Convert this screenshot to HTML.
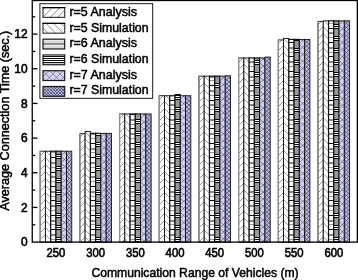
<!DOCTYPE html>
<html><head><meta charset="utf-8"><style>
html,body{margin:0;padding:0;background:#fff;width:358px;height:280px;overflow:hidden}
svg{display:block;will-change:transform}
.t{font-family:"Liberation Sans",sans-serif;font-size:12.7px;fill:#000;stroke:#000;stroke-width:0.5px}
.k{font-family:"Liberation Sans",sans-serif;font-size:11.9px;fill:#000;stroke:#000;stroke-width:0.6px}
</style></head><body>
<svg width="358" height="280" viewBox="0 0 358 280">
<defs><clipPath id="c1"><rect x="40.14" y="151.21" width="5.27" height="90.89"/></clipPath><clipPath id="c2"><rect x="45.41" y="151.21" width="5.27" height="90.89"/></clipPath><clipPath id="c3"><rect x="50.68" y="151.21" width="5.27" height="90.89"/></clipPath><clipPath id="c4"><rect x="55.95" y="151.21" width="5.27" height="90.89"/></clipPath><clipPath id="c5"><rect x="61.22" y="151.21" width="5.27" height="90.89"/></clipPath><clipPath id="c6"><rect x="66.49" y="151.21" width="5.27" height="90.89"/></clipPath><clipPath id="c7"><rect x="79.83" y="133.70" width="5.27" height="108.40"/></clipPath><clipPath id="c8"><rect x="85.10" y="131.45" width="5.27" height="110.65"/></clipPath><clipPath id="c9"><rect x="90.37" y="133.35" width="5.27" height="108.75"/></clipPath><clipPath id="c10"><rect x="95.64" y="133.35" width="5.27" height="108.75"/></clipPath><clipPath id="c11"><rect x="100.91" y="133.35" width="5.27" height="108.75"/></clipPath><clipPath id="c12"><rect x="106.18" y="133.35" width="5.27" height="108.75"/></clipPath><clipPath id="c13"><rect x="119.52" y="113.94" width="5.27" height="128.16"/></clipPath><clipPath id="c14"><rect x="124.79" y="113.94" width="5.27" height="128.16"/></clipPath><clipPath id="c15"><rect x="130.06" y="113.94" width="5.27" height="128.16"/></clipPath><clipPath id="c16"><rect x="135.33" y="113.94" width="5.27" height="128.16"/></clipPath><clipPath id="c17"><rect x="140.60" y="113.94" width="5.27" height="128.16"/></clipPath><clipPath id="c18"><rect x="145.87" y="113.94" width="5.27" height="128.16"/></clipPath><clipPath id="c19"><rect x="159.21" y="95.74" width="5.27" height="146.36"/></clipPath><clipPath id="c20"><rect x="164.48" y="95.74" width="5.27" height="146.36"/></clipPath><clipPath id="c21"><rect x="169.75" y="95.74" width="5.27" height="146.36"/></clipPath><clipPath id="c22"><rect x="175.02" y="94.53" width="5.27" height="147.57"/></clipPath><clipPath id="c23"><rect x="180.29" y="95.74" width="5.27" height="146.36"/></clipPath><clipPath id="c24"><rect x="185.56" y="95.74" width="5.27" height="146.36"/></clipPath><clipPath id="c25"><rect x="198.90" y="76.15" width="5.27" height="165.95"/></clipPath><clipPath id="c26"><rect x="204.17" y="76.15" width="5.27" height="165.95"/></clipPath><clipPath id="c27"><rect x="209.44" y="76.15" width="5.27" height="165.95"/></clipPath><clipPath id="c28"><rect x="214.71" y="76.15" width="5.27" height="165.95"/></clipPath><clipPath id="c29"><rect x="219.98" y="76.15" width="5.27" height="165.95"/></clipPath><clipPath id="c30"><rect x="225.25" y="75.81" width="5.27" height="166.29"/></clipPath><clipPath id="c31"><rect x="238.59" y="57.95" width="5.27" height="184.15"/></clipPath><clipPath id="c32"><rect x="243.86" y="57.95" width="5.27" height="184.15"/></clipPath><clipPath id="c33"><rect x="249.13" y="57.95" width="5.27" height="184.15"/></clipPath><clipPath id="c34"><rect x="254.40" y="57.95" width="5.27" height="184.15"/></clipPath><clipPath id="c35"><rect x="259.67" y="57.95" width="5.27" height="184.15"/></clipPath><clipPath id="c36"><rect x="264.94" y="57.09" width="5.27" height="185.01"/></clipPath><clipPath id="c37"><rect x="278.28" y="39.93" width="5.27" height="202.17"/></clipPath><clipPath id="c38"><rect x="283.55" y="38.54" width="5.27" height="203.56"/></clipPath><clipPath id="c39"><rect x="288.82" y="39.41" width="5.27" height="202.69"/></clipPath><clipPath id="c40"><rect x="294.09" y="39.41" width="5.27" height="202.69"/></clipPath><clipPath id="c41"><rect x="299.36" y="39.41" width="5.27" height="202.69"/></clipPath><clipPath id="c42"><rect x="304.63" y="39.41" width="5.27" height="202.69"/></clipPath><clipPath id="c43"><rect x="317.97" y="21.38" width="5.27" height="220.72"/></clipPath><clipPath id="c44"><rect x="323.24" y="20.86" width="5.27" height="221.24"/></clipPath><clipPath id="c45"><rect x="328.51" y="20.86" width="5.27" height="221.24"/></clipPath><clipPath id="c46"><rect x="333.78" y="20.86" width="5.27" height="221.24"/></clipPath><clipPath id="c47"><rect x="339.05" y="20.86" width="5.27" height="221.24"/></clipPath><clipPath id="c48"><rect x="344.32" y="20.86" width="5.27" height="221.24"/></clipPath><pattern id="l1" patternUnits="userSpaceOnUse" width="7.5" height="7.5">
 <rect width="7.5" height="7.5" fill="#fff"/>
 <path d="M-1,8.5 L8.5,-1" stroke="#7a7a7a" stroke-width="0.9"/>
</pattern>
<pattern id="l2" patternUnits="userSpaceOnUse" width="7.5" height="7.5">
 <rect width="7.5" height="7.5" fill="#fff"/>
 <path d="M-1,-1 L8.5,8.5" stroke="#7a7a7a" stroke-width="0.9"/>
</pattern>
<pattern id="l5" patternUnits="userSpaceOnUse" width="7" height="7" x="45.9" y="73.9">
 <rect width="7" height="7" fill="#d4d4fa"/>
 <path d="M-1,8 L8,-1 M-1,-1 L8,8" stroke="#555" stroke-width="0.6"/>
</pattern>
<pattern id="l6" patternUnits="userSpaceOnUse" width="3" height="3" x="0" y="0">
 <rect width="3" height="3" fill="#b4b4e4"/>
 <path d="M-1,4 L4,-1 M-1,-1 L4,4" stroke="#50506a" stroke-width="0.75"/>
</pattern></defs>
<rect width="358" height="280" fill="#fff"/>
<g clip-path="url(#c1)"><rect x="40.14" y="151.21" width="5.27" height="90.89" fill="#fff"/><path d="M39.14,149.86L46.41,142.59M39.14,156.86L46.41,149.59M39.14,163.86L46.41,156.59M39.14,170.86L46.41,163.59M39.14,177.86L46.41,170.59M39.14,184.86L46.41,177.59M39.14,191.86L46.41,184.59M39.14,198.86L46.41,191.59M39.14,205.86L46.41,198.59M39.14,212.86L46.41,205.59M39.14,219.86L46.41,212.59M39.14,226.86L46.41,219.59M39.14,233.86L46.41,226.59M39.14,240.86L46.41,233.59M39.14,247.86L46.41,240.59M39.14,254.86L46.41,247.59" stroke="#8a8a8a" stroke-width="0.9" fill="none"/></g>
<rect x="40.14" y="151.21" width="5.27" height="90.89" fill="none" stroke="#111" stroke-width="0.9"/>
<g clip-path="url(#c2)"><rect x="45.41" y="151.21" width="5.27" height="90.89" fill="#fff"/><path d="M44.41,142.59L51.68,149.86M44.41,149.59L51.68,156.86M44.41,156.59L51.68,163.86M44.41,163.59L51.68,170.86M44.41,170.59L51.68,177.86M44.41,177.59L51.68,184.86M44.41,184.59L51.68,191.86M44.41,191.59L51.68,198.86M44.41,198.59L51.68,205.86M44.41,205.59L51.68,212.86M44.41,212.59L51.68,219.86M44.41,219.59L51.68,226.86M44.41,226.59L51.68,233.86M44.41,233.59L51.68,240.86M44.41,240.59L51.68,247.86M44.41,247.59L51.68,254.86" stroke="#8a8a8a" stroke-width="0.9" fill="none"/></g>
<rect x="45.41" y="151.21" width="5.27" height="90.89" fill="none" stroke="#111" stroke-width="0.9"/>
<g clip-path="url(#c3)"><rect x="50.68" y="151.21" width="5.27" height="90.89" fill="#f8f8f8"/><rect x="50.68" y="152.00" width="5.27" height="1.00" fill="#999"/><rect x="50.68" y="157.00" width="5.27" height="1.00" fill="#111"/><rect x="50.68" y="162.00" width="5.27" height="2.00" fill="#888"/><rect x="50.68" y="167.00" width="5.27" height="1.00" fill="#999"/><rect x="50.68" y="172.00" width="5.27" height="1.00" fill="#111"/><rect x="50.68" y="176.00" width="5.27" height="2.00" fill="#888"/><rect x="50.68" y="181.00" width="5.27" height="1.00" fill="#999"/><rect x="50.68" y="186.00" width="5.27" height="1.00" fill="#111"/><rect x="50.68" y="191.00" width="5.27" height="2.00" fill="#888"/><rect x="50.68" y="196.00" width="5.27" height="1.00" fill="#999"/><rect x="50.68" y="200.00" width="5.27" height="1.00" fill="#111"/><rect x="50.68" y="205.00" width="5.27" height="2.00" fill="#888"/><rect x="50.68" y="210.00" width="5.27" height="1.00" fill="#999"/><rect x="50.68" y="215.00" width="5.27" height="1.00" fill="#111"/><rect x="50.68" y="220.00" width="5.27" height="2.00" fill="#888"/><rect x="50.68" y="224.00" width="5.27" height="1.00" fill="#999"/><rect x="50.68" y="229.00" width="5.27" height="1.00" fill="#111"/><rect x="50.68" y="234.00" width="5.27" height="2.00" fill="#888"/><rect x="50.68" y="239.00" width="5.27" height="1.00" fill="#999"/></g>
<rect x="50.68" y="151.21" width="5.27" height="90.89" fill="none" stroke="#111" stroke-width="1.2"/>
<g clip-path="url(#c4)"><rect x="55.95" y="151.21" width="5.27" height="90.89" fill="#999"/><rect x="55.95" y="154.00" width="5.27" height="5.00" fill="#fff"/><rect x="55.95" y="154.00" width="5.27" height="1.00" fill="#000"/><rect x="55.95" y="156.00" width="5.27" height="1.00" fill="#000"/><rect x="55.95" y="158.00" width="5.27" height="1.00" fill="#000"/><rect x="55.95" y="166.00" width="5.27" height="5.00" fill="#fff"/><rect x="55.95" y="166.00" width="5.27" height="1.00" fill="#000"/><rect x="55.95" y="168.00" width="5.27" height="1.00" fill="#000"/><rect x="55.95" y="170.00" width="5.27" height="1.00" fill="#000"/><rect x="55.95" y="178.00" width="5.27" height="5.00" fill="#fff"/><rect x="55.95" y="178.00" width="5.27" height="1.00" fill="#000"/><rect x="55.95" y="180.00" width="5.27" height="1.00" fill="#000"/><rect x="55.95" y="182.00" width="5.27" height="1.00" fill="#000"/><rect x="55.95" y="190.00" width="5.27" height="5.00" fill="#fff"/><rect x="55.95" y="190.00" width="5.27" height="1.00" fill="#000"/><rect x="55.95" y="192.00" width="5.27" height="1.00" fill="#000"/><rect x="55.95" y="194.00" width="5.27" height="1.00" fill="#000"/><rect x="55.95" y="201.00" width="5.27" height="5.00" fill="#fff"/><rect x="55.95" y="201.00" width="5.27" height="1.00" fill="#000"/><rect x="55.95" y="203.00" width="5.27" height="1.00" fill="#000"/><rect x="55.95" y="205.00" width="5.27" height="1.00" fill="#000"/><rect x="55.95" y="213.00" width="5.27" height="5.00" fill="#fff"/><rect x="55.95" y="213.00" width="5.27" height="1.00" fill="#000"/><rect x="55.95" y="215.00" width="5.27" height="1.00" fill="#000"/><rect x="55.95" y="217.00" width="5.27" height="1.00" fill="#000"/><rect x="55.95" y="225.00" width="5.27" height="5.00" fill="#fff"/><rect x="55.95" y="225.00" width="5.27" height="1.00" fill="#000"/><rect x="55.95" y="227.00" width="5.27" height="1.00" fill="#000"/><rect x="55.95" y="229.00" width="5.27" height="1.00" fill="#000"/><rect x="55.95" y="237.00" width="5.27" height="5.00" fill="#fff"/><rect x="55.95" y="237.00" width="5.27" height="1.00" fill="#000"/><rect x="55.95" y="239.00" width="5.27" height="1.00" fill="#000"/><rect x="55.95" y="241.00" width="5.27" height="1.00" fill="#000"/></g>
<rect x="55.95" y="151.21" width="5.27" height="90.89" fill="none" stroke="#111" stroke-width="1.2"/>
<g clip-path="url(#c5)"><rect x="61.22" y="151.21" width="5.27" height="90.89" fill="#d0d0fa"/><path d="M60.22,149.78L67.49,142.51M60.22,156.78L67.49,149.51M60.22,163.78L67.49,156.51M60.22,170.78L67.49,163.51M60.22,177.78L67.49,170.51M60.22,184.78L67.49,177.51M60.22,191.78L67.49,184.51M60.22,198.78L67.49,191.51M60.22,205.78L67.49,198.51M60.22,212.78L67.49,205.51M60.22,219.78L67.49,212.51M60.22,226.78L67.49,219.51M60.22,233.78L67.49,226.51M60.22,240.78L67.49,233.51M60.22,247.78L67.49,240.51M60.22,254.78L67.49,247.51" stroke="#555" stroke-width="0.6" fill="none"/><path d="M60.22,141.25L67.49,148.52M60.22,148.25L67.49,155.52M60.22,155.25L67.49,162.52M60.22,162.25L67.49,169.52M60.22,169.25L67.49,176.52M60.22,176.25L67.49,183.52M60.22,183.25L67.49,190.52M60.22,190.25L67.49,197.52M60.22,197.25L67.49,204.52M60.22,204.25L67.49,211.52M60.22,211.25L67.49,218.52M60.22,218.25L67.49,225.52M60.22,225.25L67.49,232.52M60.22,232.25L67.49,239.52M60.22,239.25L67.49,246.52M60.22,246.25L67.49,253.52" stroke="#555" stroke-width="0.6" fill="none"/></g>
<rect x="61.22" y="151.21" width="5.27" height="90.89" fill="none" stroke="#111" stroke-width="0.9"/>
<g clip-path="url(#c6)"><rect x="66.49" y="151.21" width="5.27" height="90.89" fill="#b8b8e6"/><path d="M65.49,148.71L72.76,141.44M65.49,152.91L72.76,145.64M65.49,157.11L72.76,149.84M65.49,161.31L72.76,154.04M65.49,165.51L72.76,158.24M65.49,169.71L72.76,162.44M65.49,173.91L72.76,166.64M65.49,178.11L72.76,170.84M65.49,182.31L72.76,175.04M65.49,186.51L72.76,179.24M65.49,190.71L72.76,183.44M65.49,194.91L72.76,187.64M65.49,199.11L72.76,191.84M65.49,203.31L72.76,196.04M65.49,207.51L72.76,200.24M65.49,211.71L72.76,204.44M65.49,215.91L72.76,208.64M65.49,220.11L72.76,212.84M65.49,224.31L72.76,217.04M65.49,228.51L72.76,221.24M65.49,232.71L72.76,225.44M65.49,236.91L72.76,229.64M65.49,241.11L72.76,233.84M65.49,245.31L72.76,238.04M65.49,249.51L72.76,242.24M65.49,253.71L72.76,246.44" stroke="#4a4a60" stroke-width="0.75" fill="none"/><path d="M65.49,141.09L72.76,148.36M65.49,145.29L72.76,152.56M65.49,149.49L72.76,156.76M65.49,153.69L72.76,160.96M65.49,157.89L72.76,165.16M65.49,162.09L72.76,169.36M65.49,166.29L72.76,173.56M65.49,170.49L72.76,177.76M65.49,174.69L72.76,181.96M65.49,178.89L72.76,186.16M65.49,183.09L72.76,190.36M65.49,187.29L72.76,194.56M65.49,191.49L72.76,198.76M65.49,195.69L72.76,202.96M65.49,199.89L72.76,207.16M65.49,204.09L72.76,211.36M65.49,208.29L72.76,215.56M65.49,212.49L72.76,219.76M65.49,216.69L72.76,223.96M65.49,220.89L72.76,228.16M65.49,225.09L72.76,232.36M65.49,229.29L72.76,236.56M65.49,233.49L72.76,240.76M65.49,237.69L72.76,244.96M65.49,241.89L72.76,249.16M65.49,246.09L72.76,253.36" stroke="#4a4a60" stroke-width="0.75" fill="none"/></g>
<rect x="66.49" y="151.21" width="5.27" height="90.89" fill="none" stroke="#111" stroke-width="0.9"/>
<rect x="39.54" y="151.21" width="1.4" height="90.89" fill="#909090"/>
<g clip-path="url(#c7)"><rect x="79.83" y="133.70" width="5.27" height="108.40" fill="#fff"/><path d="M78.83,131.17L86.10,123.90M78.83,138.17L86.10,130.90M78.83,145.17L86.10,137.90M78.83,152.17L86.10,144.90M78.83,159.17L86.10,151.90M78.83,166.17L86.10,158.90M78.83,173.17L86.10,165.90M78.83,180.17L86.10,172.90M78.83,187.17L86.10,179.90M78.83,194.17L86.10,186.90M78.83,201.17L86.10,193.90M78.83,208.17L86.10,200.90M78.83,215.17L86.10,207.90M78.83,222.17L86.10,214.90M78.83,229.17L86.10,221.90M78.83,236.17L86.10,228.90M78.83,243.17L86.10,235.90M78.83,250.17L86.10,242.90M78.83,257.17L86.10,249.90" stroke="#8a8a8a" stroke-width="0.9" fill="none"/></g>
<rect x="79.83" y="133.70" width="5.27" height="108.40" fill="none" stroke="#111" stroke-width="0.9"/>
<g clip-path="url(#c8)"><rect x="85.10" y="131.45" width="5.27" height="110.65" fill="#fff"/><path d="M84.10,116.90L91.37,124.17M84.10,123.90L91.37,131.17M84.10,130.90L91.37,138.17M84.10,137.90L91.37,145.17M84.10,144.90L91.37,152.17M84.10,151.90L91.37,159.17M84.10,158.90L91.37,166.17M84.10,165.90L91.37,173.17M84.10,172.90L91.37,180.17M84.10,179.90L91.37,187.17M84.10,186.90L91.37,194.17M84.10,193.90L91.37,201.17M84.10,200.90L91.37,208.17M84.10,207.90L91.37,215.17M84.10,214.90L91.37,222.17M84.10,221.90L91.37,229.17M84.10,228.90L91.37,236.17M84.10,235.90L91.37,243.17M84.10,242.90L91.37,250.17M84.10,249.90L91.37,257.17" stroke="#8a8a8a" stroke-width="0.9" fill="none"/></g>
<rect x="85.10" y="131.45" width="5.27" height="110.65" fill="none" stroke="#111" stroke-width="0.9"/>
<g clip-path="url(#c9)"><rect x="90.37" y="133.35" width="5.27" height="108.75" fill="#f8f8f8"/><rect x="90.37" y="133.35" width="5.27" height="1.65" fill="#888"/><rect x="90.37" y="138.00" width="5.27" height="1.00" fill="#999"/><rect x="90.37" y="143.00" width="5.27" height="1.00" fill="#111"/><rect x="90.37" y="148.00" width="5.27" height="2.00" fill="#888"/><rect x="90.37" y="152.00" width="5.27" height="1.00" fill="#999"/><rect x="90.37" y="157.00" width="5.27" height="1.00" fill="#111"/><rect x="90.37" y="162.00" width="5.27" height="2.00" fill="#888"/><rect x="90.37" y="167.00" width="5.27" height="1.00" fill="#999"/><rect x="90.37" y="172.00" width="5.27" height="1.00" fill="#111"/><rect x="90.37" y="176.00" width="5.27" height="2.00" fill="#888"/><rect x="90.37" y="181.00" width="5.27" height="1.00" fill="#999"/><rect x="90.37" y="186.00" width="5.27" height="1.00" fill="#111"/><rect x="90.37" y="191.00" width="5.27" height="2.00" fill="#888"/><rect x="90.37" y="196.00" width="5.27" height="1.00" fill="#999"/><rect x="90.37" y="200.00" width="5.27" height="1.00" fill="#111"/><rect x="90.37" y="205.00" width="5.27" height="2.00" fill="#888"/><rect x="90.37" y="210.00" width="5.27" height="1.00" fill="#999"/><rect x="90.37" y="215.00" width="5.27" height="1.00" fill="#111"/><rect x="90.37" y="220.00" width="5.27" height="2.00" fill="#888"/><rect x="90.37" y="224.00" width="5.27" height="1.00" fill="#999"/><rect x="90.37" y="229.00" width="5.27" height="1.00" fill="#111"/><rect x="90.37" y="234.00" width="5.27" height="2.00" fill="#888"/><rect x="90.37" y="239.00" width="5.27" height="1.00" fill="#999"/></g>
<rect x="90.37" y="133.35" width="5.27" height="108.75" fill="none" stroke="#111" stroke-width="1.2"/>
<g clip-path="url(#c10)"><rect x="95.64" y="133.35" width="5.27" height="108.75" fill="#999"/><rect x="95.64" y="133.35" width="5.27" height="2.65" fill="#fff"/><rect x="95.64" y="133.35" width="5.27" height="0.65" fill="#000"/><rect x="95.64" y="135.00" width="5.27" height="1.00" fill="#000"/><rect x="95.64" y="142.00" width="5.27" height="5.00" fill="#fff"/><rect x="95.64" y="142.00" width="5.27" height="1.00" fill="#000"/><rect x="95.64" y="144.00" width="5.27" height="1.00" fill="#000"/><rect x="95.64" y="146.00" width="5.27" height="1.00" fill="#000"/><rect x="95.64" y="154.00" width="5.27" height="5.00" fill="#fff"/><rect x="95.64" y="154.00" width="5.27" height="1.00" fill="#000"/><rect x="95.64" y="156.00" width="5.27" height="1.00" fill="#000"/><rect x="95.64" y="158.00" width="5.27" height="1.00" fill="#000"/><rect x="95.64" y="166.00" width="5.27" height="5.00" fill="#fff"/><rect x="95.64" y="166.00" width="5.27" height="1.00" fill="#000"/><rect x="95.64" y="168.00" width="5.27" height="1.00" fill="#000"/><rect x="95.64" y="170.00" width="5.27" height="1.00" fill="#000"/><rect x="95.64" y="178.00" width="5.27" height="5.00" fill="#fff"/><rect x="95.64" y="178.00" width="5.27" height="1.00" fill="#000"/><rect x="95.64" y="180.00" width="5.27" height="1.00" fill="#000"/><rect x="95.64" y="182.00" width="5.27" height="1.00" fill="#000"/><rect x="95.64" y="190.00" width="5.27" height="5.00" fill="#fff"/><rect x="95.64" y="190.00" width="5.27" height="1.00" fill="#000"/><rect x="95.64" y="192.00" width="5.27" height="1.00" fill="#000"/><rect x="95.64" y="194.00" width="5.27" height="1.00" fill="#000"/><rect x="95.64" y="201.00" width="5.27" height="5.00" fill="#fff"/><rect x="95.64" y="201.00" width="5.27" height="1.00" fill="#000"/><rect x="95.64" y="203.00" width="5.27" height="1.00" fill="#000"/><rect x="95.64" y="205.00" width="5.27" height="1.00" fill="#000"/><rect x="95.64" y="213.00" width="5.27" height="5.00" fill="#fff"/><rect x="95.64" y="213.00" width="5.27" height="1.00" fill="#000"/><rect x="95.64" y="215.00" width="5.27" height="1.00" fill="#000"/><rect x="95.64" y="217.00" width="5.27" height="1.00" fill="#000"/><rect x="95.64" y="225.00" width="5.27" height="5.00" fill="#fff"/><rect x="95.64" y="225.00" width="5.27" height="1.00" fill="#000"/><rect x="95.64" y="227.00" width="5.27" height="1.00" fill="#000"/><rect x="95.64" y="229.00" width="5.27" height="1.00" fill="#000"/><rect x="95.64" y="237.00" width="5.27" height="5.00" fill="#fff"/><rect x="95.64" y="237.00" width="5.27" height="1.00" fill="#000"/><rect x="95.64" y="239.00" width="5.27" height="1.00" fill="#000"/><rect x="95.64" y="241.00" width="5.27" height="1.00" fill="#000"/></g>
<rect x="95.64" y="133.35" width="5.27" height="108.75" fill="none" stroke="#111" stroke-width="1.2"/>
<g clip-path="url(#c11)"><rect x="100.91" y="133.35" width="5.27" height="108.75" fill="#d0d0fa"/><path d="M99.91,131.09L107.18,123.82M99.91,138.09L107.18,130.82M99.91,145.09L107.18,137.82M99.91,152.09L107.18,144.82M99.91,159.09L107.18,151.82M99.91,166.09L107.18,158.82M99.91,173.09L107.18,165.82M99.91,180.09L107.18,172.82M99.91,187.09L107.18,179.82M99.91,194.09L107.18,186.82M99.91,201.09L107.18,193.82M99.91,208.09L107.18,200.82M99.91,215.09L107.18,207.82M99.91,222.09L107.18,214.82M99.91,229.09L107.18,221.82M99.91,236.09L107.18,228.82M99.91,243.09L107.18,235.82M99.91,250.09L107.18,242.82M99.91,257.09L107.18,249.82" stroke="#555" stroke-width="0.6" fill="none"/><path d="M99.91,122.56L107.18,129.83M99.91,129.56L107.18,136.83M99.91,136.56L107.18,143.83M99.91,143.56L107.18,150.83M99.91,150.56L107.18,157.83M99.91,157.56L107.18,164.83M99.91,164.56L107.18,171.83M99.91,171.56L107.18,178.83M99.91,178.56L107.18,185.83M99.91,185.56L107.18,192.83M99.91,192.56L107.18,199.83M99.91,199.56L107.18,206.83M99.91,206.56L107.18,213.83M99.91,213.56L107.18,220.83M99.91,220.56L107.18,227.83M99.91,227.56L107.18,234.83M99.91,234.56L107.18,241.83M99.91,241.56L107.18,248.83M99.91,248.56L107.18,255.83" stroke="#555" stroke-width="0.6" fill="none"/></g>
<rect x="100.91" y="133.35" width="5.27" height="108.75" fill="none" stroke="#111" stroke-width="0.9"/>
<g clip-path="url(#c12)"><rect x="106.18" y="133.35" width="5.27" height="108.75" fill="#b8b8e6"/><path d="M105.18,130.02L112.45,122.75M105.18,134.22L112.45,126.95M105.18,138.42L112.45,131.15M105.18,142.62L112.45,135.35M105.18,146.82L112.45,139.55M105.18,151.02L112.45,143.75M105.18,155.22L112.45,147.95M105.18,159.42L112.45,152.15M105.18,163.62L112.45,156.35M105.18,167.82L112.45,160.55M105.18,172.02L112.45,164.75M105.18,176.22L112.45,168.95M105.18,180.42L112.45,173.15M105.18,184.62L112.45,177.35M105.18,188.82L112.45,181.55M105.18,193.02L112.45,185.75M105.18,197.22L112.45,189.95M105.18,201.42L112.45,194.15M105.18,205.62L112.45,198.35M105.18,209.82L112.45,202.55M105.18,214.02L112.45,206.75M105.18,218.22L112.45,210.95M105.18,222.42L112.45,215.15M105.18,226.62L112.45,219.35M105.18,230.82L112.45,223.55M105.18,235.02L112.45,227.75M105.18,239.22L112.45,231.95M105.18,243.42L112.45,236.15M105.18,247.62L112.45,240.35M105.18,251.82L112.45,244.55" stroke="#4a4a60" stroke-width="0.75" fill="none"/><path d="M105.18,121.98L112.45,129.25M105.18,126.18L112.45,133.45M105.18,130.38L112.45,137.65M105.18,134.58L112.45,141.85M105.18,138.78L112.45,146.05M105.18,142.98L112.45,150.25M105.18,147.18L112.45,154.45M105.18,151.38L112.45,158.65M105.18,155.58L112.45,162.85M105.18,159.78L112.45,167.05M105.18,163.98L112.45,171.25M105.18,168.18L112.45,175.45M105.18,172.38L112.45,179.65M105.18,176.58L112.45,183.85M105.18,180.78L112.45,188.05M105.18,184.98L112.45,192.25M105.18,189.18L112.45,196.45M105.18,193.38L112.45,200.65M105.18,197.58L112.45,204.85M105.18,201.78L112.45,209.05M105.18,205.98L112.45,213.25M105.18,210.18L112.45,217.45M105.18,214.38L112.45,221.65M105.18,218.58L112.45,225.85M105.18,222.78L112.45,230.05M105.18,226.98L112.45,234.25M105.18,231.18L112.45,238.45M105.18,235.38L112.45,242.65M105.18,239.58L112.45,246.85M105.18,243.78L112.45,251.05" stroke="#4a4a60" stroke-width="0.75" fill="none"/></g>
<rect x="106.18" y="133.35" width="5.27" height="108.75" fill="none" stroke="#111" stroke-width="0.9"/>
<rect x="79.23" y="133.70" width="1.4" height="108.40" fill="#909090"/>
<g clip-path="url(#c13)"><rect x="119.52" y="113.94" width="5.27" height="128.16" fill="#fff"/><path d="M118.52,112.48L125.79,105.21M118.52,119.48L125.79,112.21M118.52,126.48L125.79,119.21M118.52,133.48L125.79,126.21M118.52,140.48L125.79,133.21M118.52,147.48L125.79,140.21M118.52,154.48L125.79,147.21M118.52,161.48L125.79,154.21M118.52,168.48L125.79,161.21M118.52,175.48L125.79,168.21M118.52,182.48L125.79,175.21M118.52,189.48L125.79,182.21M118.52,196.48L125.79,189.21M118.52,203.48L125.79,196.21M118.52,210.48L125.79,203.21M118.52,217.48L125.79,210.21M118.52,224.48L125.79,217.21M118.52,231.48L125.79,224.21M118.52,238.48L125.79,231.21M118.52,245.48L125.79,238.21M118.52,252.48L125.79,245.21" stroke="#8a8a8a" stroke-width="0.9" fill="none"/></g>
<rect x="119.52" y="113.94" width="5.27" height="128.16" fill="none" stroke="#111" stroke-width="0.9"/>
<g clip-path="url(#c14)"><rect x="124.79" y="113.94" width="5.27" height="128.16" fill="#fff"/><path d="M123.79,105.21L131.06,112.48M123.79,112.21L131.06,119.48M123.79,119.21L131.06,126.48M123.79,126.21L131.06,133.48M123.79,133.21L131.06,140.48M123.79,140.21L131.06,147.48M123.79,147.21L131.06,154.48M123.79,154.21L131.06,161.48M123.79,161.21L131.06,168.48M123.79,168.21L131.06,175.48M123.79,175.21L131.06,182.48M123.79,182.21L131.06,189.48M123.79,189.21L131.06,196.48M123.79,196.21L131.06,203.48M123.79,203.21L131.06,210.48M123.79,210.21L131.06,217.48M123.79,217.21L131.06,224.48M123.79,224.21L131.06,231.48M123.79,231.21L131.06,238.48M123.79,238.21L131.06,245.48M123.79,245.21L131.06,252.48" stroke="#8a8a8a" stroke-width="0.9" fill="none"/></g>
<rect x="124.79" y="113.94" width="5.27" height="128.16" fill="none" stroke="#111" stroke-width="0.9"/>
<g clip-path="url(#c15)"><rect x="130.06" y="113.94" width="5.27" height="128.16" fill="#f8f8f8"/><rect x="130.06" y="114.00" width="5.27" height="1.00" fill="#111"/><rect x="130.06" y="119.00" width="5.27" height="2.00" fill="#888"/><rect x="130.06" y="124.00" width="5.27" height="1.00" fill="#999"/><rect x="130.06" y="128.00" width="5.27" height="1.00" fill="#111"/><rect x="130.06" y="133.00" width="5.27" height="2.00" fill="#888"/><rect x="130.06" y="138.00" width="5.27" height="1.00" fill="#999"/><rect x="130.06" y="143.00" width="5.27" height="1.00" fill="#111"/><rect x="130.06" y="148.00" width="5.27" height="2.00" fill="#888"/><rect x="130.06" y="152.00" width="5.27" height="1.00" fill="#999"/><rect x="130.06" y="157.00" width="5.27" height="1.00" fill="#111"/><rect x="130.06" y="162.00" width="5.27" height="2.00" fill="#888"/><rect x="130.06" y="167.00" width="5.27" height="1.00" fill="#999"/><rect x="130.06" y="172.00" width="5.27" height="1.00" fill="#111"/><rect x="130.06" y="176.00" width="5.27" height="2.00" fill="#888"/><rect x="130.06" y="181.00" width="5.27" height="1.00" fill="#999"/><rect x="130.06" y="186.00" width="5.27" height="1.00" fill="#111"/><rect x="130.06" y="191.00" width="5.27" height="2.00" fill="#888"/><rect x="130.06" y="196.00" width="5.27" height="1.00" fill="#999"/><rect x="130.06" y="200.00" width="5.27" height="1.00" fill="#111"/><rect x="130.06" y="205.00" width="5.27" height="2.00" fill="#888"/><rect x="130.06" y="210.00" width="5.27" height="1.00" fill="#999"/><rect x="130.06" y="215.00" width="5.27" height="1.00" fill="#111"/><rect x="130.06" y="220.00" width="5.27" height="2.00" fill="#888"/><rect x="130.06" y="224.00" width="5.27" height="1.00" fill="#999"/><rect x="130.06" y="229.00" width="5.27" height="1.00" fill="#111"/><rect x="130.06" y="234.00" width="5.27" height="2.00" fill="#888"/><rect x="130.06" y="239.00" width="5.27" height="1.00" fill="#999"/></g>
<rect x="130.06" y="113.94" width="5.27" height="128.16" fill="none" stroke="#111" stroke-width="1.2"/>
<g clip-path="url(#c16)"><rect x="135.33" y="113.94" width="5.27" height="128.16" fill="#999"/><rect x="135.33" y="119.00" width="5.27" height="5.00" fill="#fff"/><rect x="135.33" y="119.00" width="5.27" height="1.00" fill="#000"/><rect x="135.33" y="121.00" width="5.27" height="1.00" fill="#000"/><rect x="135.33" y="123.00" width="5.27" height="1.00" fill="#000"/><rect x="135.33" y="131.00" width="5.27" height="5.00" fill="#fff"/><rect x="135.33" y="131.00" width="5.27" height="1.00" fill="#000"/><rect x="135.33" y="133.00" width="5.27" height="1.00" fill="#000"/><rect x="135.33" y="135.00" width="5.27" height="1.00" fill="#000"/><rect x="135.33" y="142.00" width="5.27" height="5.00" fill="#fff"/><rect x="135.33" y="142.00" width="5.27" height="1.00" fill="#000"/><rect x="135.33" y="144.00" width="5.27" height="1.00" fill="#000"/><rect x="135.33" y="146.00" width="5.27" height="1.00" fill="#000"/><rect x="135.33" y="154.00" width="5.27" height="5.00" fill="#fff"/><rect x="135.33" y="154.00" width="5.27" height="1.00" fill="#000"/><rect x="135.33" y="156.00" width="5.27" height="1.00" fill="#000"/><rect x="135.33" y="158.00" width="5.27" height="1.00" fill="#000"/><rect x="135.33" y="166.00" width="5.27" height="5.00" fill="#fff"/><rect x="135.33" y="166.00" width="5.27" height="1.00" fill="#000"/><rect x="135.33" y="168.00" width="5.27" height="1.00" fill="#000"/><rect x="135.33" y="170.00" width="5.27" height="1.00" fill="#000"/><rect x="135.33" y="178.00" width="5.27" height="5.00" fill="#fff"/><rect x="135.33" y="178.00" width="5.27" height="1.00" fill="#000"/><rect x="135.33" y="180.00" width="5.27" height="1.00" fill="#000"/><rect x="135.33" y="182.00" width="5.27" height="1.00" fill="#000"/><rect x="135.33" y="190.00" width="5.27" height="5.00" fill="#fff"/><rect x="135.33" y="190.00" width="5.27" height="1.00" fill="#000"/><rect x="135.33" y="192.00" width="5.27" height="1.00" fill="#000"/><rect x="135.33" y="194.00" width="5.27" height="1.00" fill="#000"/><rect x="135.33" y="201.00" width="5.27" height="5.00" fill="#fff"/><rect x="135.33" y="201.00" width="5.27" height="1.00" fill="#000"/><rect x="135.33" y="203.00" width="5.27" height="1.00" fill="#000"/><rect x="135.33" y="205.00" width="5.27" height="1.00" fill="#000"/><rect x="135.33" y="213.00" width="5.27" height="5.00" fill="#fff"/><rect x="135.33" y="213.00" width="5.27" height="1.00" fill="#000"/><rect x="135.33" y="215.00" width="5.27" height="1.00" fill="#000"/><rect x="135.33" y="217.00" width="5.27" height="1.00" fill="#000"/><rect x="135.33" y="225.00" width="5.27" height="5.00" fill="#fff"/><rect x="135.33" y="225.00" width="5.27" height="1.00" fill="#000"/><rect x="135.33" y="227.00" width="5.27" height="1.00" fill="#000"/><rect x="135.33" y="229.00" width="5.27" height="1.00" fill="#000"/><rect x="135.33" y="237.00" width="5.27" height="5.00" fill="#fff"/><rect x="135.33" y="237.00" width="5.27" height="1.00" fill="#000"/><rect x="135.33" y="239.00" width="5.27" height="1.00" fill="#000"/><rect x="135.33" y="241.00" width="5.27" height="1.00" fill="#000"/></g>
<rect x="135.33" y="113.94" width="5.27" height="128.16" fill="none" stroke="#111" stroke-width="1.2"/>
<g clip-path="url(#c17)"><rect x="140.60" y="113.94" width="5.27" height="128.16" fill="#d0d0fa"/><path d="M139.60,112.40L146.87,105.13M139.60,119.40L146.87,112.13M139.60,126.40L146.87,119.13M139.60,133.40L146.87,126.13M139.60,140.40L146.87,133.13M139.60,147.40L146.87,140.13M139.60,154.40L146.87,147.13M139.60,161.40L146.87,154.13M139.60,168.40L146.87,161.13M139.60,175.40L146.87,168.13M139.60,182.40L146.87,175.13M139.60,189.40L146.87,182.13M139.60,196.40L146.87,189.13M139.60,203.40L146.87,196.13M139.60,210.40L146.87,203.13M139.60,217.40L146.87,210.13M139.60,224.40L146.87,217.13M139.60,231.40L146.87,224.13M139.60,238.40L146.87,231.13M139.60,245.40L146.87,238.13M139.60,252.40L146.87,245.13" stroke="#555" stroke-width="0.6" fill="none"/><path d="M139.60,103.87L146.87,111.14M139.60,110.87L146.87,118.14M139.60,117.87L146.87,125.14M139.60,124.87L146.87,132.14M139.60,131.87L146.87,139.14M139.60,138.87L146.87,146.14M139.60,145.87L146.87,153.14M139.60,152.87L146.87,160.14M139.60,159.87L146.87,167.14M139.60,166.87L146.87,174.14M139.60,173.87L146.87,181.14M139.60,180.87L146.87,188.14M139.60,187.87L146.87,195.14M139.60,194.87L146.87,202.14M139.60,201.87L146.87,209.14M139.60,208.87L146.87,216.14M139.60,215.87L146.87,223.14M139.60,222.87L146.87,230.14M139.60,229.87L146.87,237.14M139.60,236.87L146.87,244.14M139.60,243.87L146.87,251.14" stroke="#555" stroke-width="0.6" fill="none"/></g>
<rect x="140.60" y="113.94" width="5.27" height="128.16" fill="none" stroke="#111" stroke-width="0.9"/>
<g clip-path="url(#c18)"><rect x="145.87" y="113.94" width="5.27" height="128.16" fill="#b8b8e6"/><path d="M144.87,111.33L152.14,104.06M144.87,115.53L152.14,108.26M144.87,119.73L152.14,112.46M144.87,123.93L152.14,116.66M144.87,128.13L152.14,120.86M144.87,132.33L152.14,125.06M144.87,136.53L152.14,129.26M144.87,140.73L152.14,133.46M144.87,144.93L152.14,137.66M144.87,149.13L152.14,141.86M144.87,153.33L152.14,146.06M144.87,157.53L152.14,150.26M144.87,161.73L152.14,154.46M144.87,165.93L152.14,158.66M144.87,170.13L152.14,162.86M144.87,174.33L152.14,167.06M144.87,178.53L152.14,171.26M144.87,182.73L152.14,175.46M144.87,186.93L152.14,179.66M144.87,191.13L152.14,183.86M144.87,195.33L152.14,188.06M144.87,199.53L152.14,192.26M144.87,203.73L152.14,196.46M144.87,207.93L152.14,200.66M144.87,212.13L152.14,204.86M144.87,216.33L152.14,209.06M144.87,220.53L152.14,213.26M144.87,224.73L152.14,217.46M144.87,228.93L152.14,221.66M144.87,233.13L152.14,225.86M144.87,237.33L152.14,230.06M144.87,241.53L152.14,234.26M144.87,245.73L152.14,238.46M144.87,249.93L152.14,242.66M144.87,254.13L152.14,246.86" stroke="#4a4a60" stroke-width="0.75" fill="none"/><path d="M144.87,102.87L152.14,110.14M144.87,107.07L152.14,114.34M144.87,111.27L152.14,118.54M144.87,115.47L152.14,122.74M144.87,119.67L152.14,126.94M144.87,123.87L152.14,131.14M144.87,128.07L152.14,135.34M144.87,132.27L152.14,139.54M144.87,136.47L152.14,143.74M144.87,140.67L152.14,147.94M144.87,144.87L152.14,152.14M144.87,149.07L152.14,156.34M144.87,153.27L152.14,160.54M144.87,157.47L152.14,164.74M144.87,161.67L152.14,168.94M144.87,165.87L152.14,173.14M144.87,170.07L152.14,177.34M144.87,174.27L152.14,181.54M144.87,178.47L152.14,185.74M144.87,182.67L152.14,189.94M144.87,186.87L152.14,194.14M144.87,191.07L152.14,198.34M144.87,195.27L152.14,202.54M144.87,199.47L152.14,206.74M144.87,203.67L152.14,210.94M144.87,207.87L152.14,215.14M144.87,212.07L152.14,219.34M144.87,216.27L152.14,223.54M144.87,220.47L152.14,227.74M144.87,224.67L152.14,231.94M144.87,228.87L152.14,236.14M144.87,233.07L152.14,240.34M144.87,237.27L152.14,244.54M144.87,241.47L152.14,248.74M144.87,245.67L152.14,252.94" stroke="#4a4a60" stroke-width="0.75" fill="none"/></g>
<rect x="145.87" y="113.94" width="5.27" height="128.16" fill="none" stroke="#111" stroke-width="0.9"/>
<rect x="118.92" y="113.94" width="1.4" height="128.16" fill="#909090"/>
<g clip-path="url(#c19)"><rect x="159.21" y="95.74" width="5.27" height="146.36" fill="#fff"/><path d="M158.21,93.79L165.48,86.52M158.21,100.79L165.48,93.52M158.21,107.79L165.48,100.52M158.21,114.79L165.48,107.52M158.21,121.79L165.48,114.52M158.21,128.79L165.48,121.52M158.21,135.79L165.48,128.52M158.21,142.79L165.48,135.52M158.21,149.79L165.48,142.52M158.21,156.79L165.48,149.52M158.21,163.79L165.48,156.52M158.21,170.79L165.48,163.52M158.21,177.79L165.48,170.52M158.21,184.79L165.48,177.52M158.21,191.79L165.48,184.52M158.21,198.79L165.48,191.52M158.21,205.79L165.48,198.52M158.21,212.79L165.48,205.52M158.21,219.79L165.48,212.52M158.21,226.79L165.48,219.52M158.21,233.79L165.48,226.52M158.21,240.79L165.48,233.52M158.21,247.79L165.48,240.52M158.21,254.79L165.48,247.52" stroke="#8a8a8a" stroke-width="0.9" fill="none"/></g>
<rect x="159.21" y="95.74" width="5.27" height="146.36" fill="none" stroke="#111" stroke-width="0.9"/>
<g clip-path="url(#c20)"><rect x="164.48" y="95.74" width="5.27" height="146.36" fill="#fff"/><path d="M163.48,86.52L170.75,93.79M163.48,93.52L170.75,100.79M163.48,100.52L170.75,107.79M163.48,107.52L170.75,114.79M163.48,114.52L170.75,121.79M163.48,121.52L170.75,128.79M163.48,128.52L170.75,135.79M163.48,135.52L170.75,142.79M163.48,142.52L170.75,149.79M163.48,149.52L170.75,156.79M163.48,156.52L170.75,163.79M163.48,163.52L170.75,170.79M163.48,170.52L170.75,177.79M163.48,177.52L170.75,184.79M163.48,184.52L170.75,191.79M163.48,191.52L170.75,198.79M163.48,198.52L170.75,205.79M163.48,205.52L170.75,212.79M163.48,212.52L170.75,219.79M163.48,219.52L170.75,226.79M163.48,226.52L170.75,233.79M163.48,233.52L170.75,240.79M163.48,240.52L170.75,247.79M163.48,247.52L170.75,254.79" stroke="#8a8a8a" stroke-width="0.9" fill="none"/></g>
<rect x="164.48" y="95.74" width="5.27" height="146.36" fill="none" stroke="#111" stroke-width="0.9"/>
<g clip-path="url(#c21)"><rect x="169.75" y="95.74" width="5.27" height="146.36" fill="#f8f8f8"/><rect x="169.75" y="95.74" width="5.27" height="0.26" fill="#999"/><rect x="169.75" y="100.00" width="5.27" height="1.00" fill="#111"/><rect x="169.75" y="104.00" width="5.27" height="2.00" fill="#888"/><rect x="169.75" y="109.00" width="5.27" height="1.00" fill="#999"/><rect x="169.75" y="114.00" width="5.27" height="1.00" fill="#111"/><rect x="169.75" y="119.00" width="5.27" height="2.00" fill="#888"/><rect x="169.75" y="124.00" width="5.27" height="1.00" fill="#999"/><rect x="169.75" y="128.00" width="5.27" height="1.00" fill="#111"/><rect x="169.75" y="133.00" width="5.27" height="2.00" fill="#888"/><rect x="169.75" y="138.00" width="5.27" height="1.00" fill="#999"/><rect x="169.75" y="143.00" width="5.27" height="1.00" fill="#111"/><rect x="169.75" y="148.00" width="5.27" height="2.00" fill="#888"/><rect x="169.75" y="152.00" width="5.27" height="1.00" fill="#999"/><rect x="169.75" y="157.00" width="5.27" height="1.00" fill="#111"/><rect x="169.75" y="162.00" width="5.27" height="2.00" fill="#888"/><rect x="169.75" y="167.00" width="5.27" height="1.00" fill="#999"/><rect x="169.75" y="172.00" width="5.27" height="1.00" fill="#111"/><rect x="169.75" y="176.00" width="5.27" height="2.00" fill="#888"/><rect x="169.75" y="181.00" width="5.27" height="1.00" fill="#999"/><rect x="169.75" y="186.00" width="5.27" height="1.00" fill="#111"/><rect x="169.75" y="191.00" width="5.27" height="2.00" fill="#888"/><rect x="169.75" y="196.00" width="5.27" height="1.00" fill="#999"/><rect x="169.75" y="200.00" width="5.27" height="1.00" fill="#111"/><rect x="169.75" y="205.00" width="5.27" height="2.00" fill="#888"/><rect x="169.75" y="210.00" width="5.27" height="1.00" fill="#999"/><rect x="169.75" y="215.00" width="5.27" height="1.00" fill="#111"/><rect x="169.75" y="220.00" width="5.27" height="2.00" fill="#888"/><rect x="169.75" y="224.00" width="5.27" height="1.00" fill="#999"/><rect x="169.75" y="229.00" width="5.27" height="1.00" fill="#111"/><rect x="169.75" y="234.00" width="5.27" height="2.00" fill="#888"/><rect x="169.75" y="239.00" width="5.27" height="1.00" fill="#999"/></g>
<rect x="169.75" y="95.74" width="5.27" height="146.36" fill="none" stroke="#111" stroke-width="1.2"/>
<g clip-path="url(#c22)"><rect x="175.02" y="94.53" width="5.27" height="147.57" fill="#999"/><rect x="175.02" y="95.00" width="5.27" height="5.00" fill="#fff"/><rect x="175.02" y="95.00" width="5.27" height="1.00" fill="#000"/><rect x="175.02" y="97.00" width="5.27" height="1.00" fill="#000"/><rect x="175.02" y="99.00" width="5.27" height="1.00" fill="#000"/><rect x="175.02" y="107.00" width="5.27" height="5.00" fill="#fff"/><rect x="175.02" y="107.00" width="5.27" height="1.00" fill="#000"/><rect x="175.02" y="109.00" width="5.27" height="1.00" fill="#000"/><rect x="175.02" y="111.00" width="5.27" height="1.00" fill="#000"/><rect x="175.02" y="119.00" width="5.27" height="5.00" fill="#fff"/><rect x="175.02" y="119.00" width="5.27" height="1.00" fill="#000"/><rect x="175.02" y="121.00" width="5.27" height="1.00" fill="#000"/><rect x="175.02" y="123.00" width="5.27" height="1.00" fill="#000"/><rect x="175.02" y="131.00" width="5.27" height="5.00" fill="#fff"/><rect x="175.02" y="131.00" width="5.27" height="1.00" fill="#000"/><rect x="175.02" y="133.00" width="5.27" height="1.00" fill="#000"/><rect x="175.02" y="135.00" width="5.27" height="1.00" fill="#000"/><rect x="175.02" y="142.00" width="5.27" height="5.00" fill="#fff"/><rect x="175.02" y="142.00" width="5.27" height="1.00" fill="#000"/><rect x="175.02" y="144.00" width="5.27" height="1.00" fill="#000"/><rect x="175.02" y="146.00" width="5.27" height="1.00" fill="#000"/><rect x="175.02" y="154.00" width="5.27" height="5.00" fill="#fff"/><rect x="175.02" y="154.00" width="5.27" height="1.00" fill="#000"/><rect x="175.02" y="156.00" width="5.27" height="1.00" fill="#000"/><rect x="175.02" y="158.00" width="5.27" height="1.00" fill="#000"/><rect x="175.02" y="166.00" width="5.27" height="5.00" fill="#fff"/><rect x="175.02" y="166.00" width="5.27" height="1.00" fill="#000"/><rect x="175.02" y="168.00" width="5.27" height="1.00" fill="#000"/><rect x="175.02" y="170.00" width="5.27" height="1.00" fill="#000"/><rect x="175.02" y="178.00" width="5.27" height="5.00" fill="#fff"/><rect x="175.02" y="178.00" width="5.27" height="1.00" fill="#000"/><rect x="175.02" y="180.00" width="5.27" height="1.00" fill="#000"/><rect x="175.02" y="182.00" width="5.27" height="1.00" fill="#000"/><rect x="175.02" y="190.00" width="5.27" height="5.00" fill="#fff"/><rect x="175.02" y="190.00" width="5.27" height="1.00" fill="#000"/><rect x="175.02" y="192.00" width="5.27" height="1.00" fill="#000"/><rect x="175.02" y="194.00" width="5.27" height="1.00" fill="#000"/><rect x="175.02" y="201.00" width="5.27" height="5.00" fill="#fff"/><rect x="175.02" y="201.00" width="5.27" height="1.00" fill="#000"/><rect x="175.02" y="203.00" width="5.27" height="1.00" fill="#000"/><rect x="175.02" y="205.00" width="5.27" height="1.00" fill="#000"/><rect x="175.02" y="213.00" width="5.27" height="5.00" fill="#fff"/><rect x="175.02" y="213.00" width="5.27" height="1.00" fill="#000"/><rect x="175.02" y="215.00" width="5.27" height="1.00" fill="#000"/><rect x="175.02" y="217.00" width="5.27" height="1.00" fill="#000"/><rect x="175.02" y="225.00" width="5.27" height="5.00" fill="#fff"/><rect x="175.02" y="225.00" width="5.27" height="1.00" fill="#000"/><rect x="175.02" y="227.00" width="5.27" height="1.00" fill="#000"/><rect x="175.02" y="229.00" width="5.27" height="1.00" fill="#000"/><rect x="175.02" y="237.00" width="5.27" height="5.00" fill="#fff"/><rect x="175.02" y="237.00" width="5.27" height="1.00" fill="#000"/><rect x="175.02" y="239.00" width="5.27" height="1.00" fill="#000"/><rect x="175.02" y="241.00" width="5.27" height="1.00" fill="#000"/></g>
<rect x="175.02" y="94.53" width="5.27" height="147.57" fill="none" stroke="#111" stroke-width="1.2"/>
<g clip-path="url(#c23)"><rect x="180.29" y="95.74" width="5.27" height="146.36" fill="#d0d0fa"/><path d="M179.29,93.71L186.56,86.44M179.29,100.71L186.56,93.44M179.29,107.71L186.56,100.44M179.29,114.71L186.56,107.44M179.29,121.71L186.56,114.44M179.29,128.71L186.56,121.44M179.29,135.71L186.56,128.44M179.29,142.71L186.56,135.44M179.29,149.71L186.56,142.44M179.29,156.71L186.56,149.44M179.29,163.71L186.56,156.44M179.29,170.71L186.56,163.44M179.29,177.71L186.56,170.44M179.29,184.71L186.56,177.44M179.29,191.71L186.56,184.44M179.29,198.71L186.56,191.44M179.29,205.71L186.56,198.44M179.29,212.71L186.56,205.44M179.29,219.71L186.56,212.44M179.29,226.71L186.56,219.44M179.29,233.71L186.56,226.44M179.29,240.71L186.56,233.44M179.29,247.71L186.56,240.44M179.29,254.71L186.56,247.44" stroke="#555" stroke-width="0.6" fill="none"/><path d="M179.29,85.18L186.56,92.45M179.29,92.18L186.56,99.45M179.29,99.18L186.56,106.45M179.29,106.18L186.56,113.45M179.29,113.18L186.56,120.45M179.29,120.18L186.56,127.45M179.29,127.18L186.56,134.45M179.29,134.18L186.56,141.45M179.29,141.18L186.56,148.45M179.29,148.18L186.56,155.45M179.29,155.18L186.56,162.45M179.29,162.18L186.56,169.45M179.29,169.18L186.56,176.45M179.29,176.18L186.56,183.45M179.29,183.18L186.56,190.45M179.29,190.18L186.56,197.45M179.29,197.18L186.56,204.45M179.29,204.18L186.56,211.45M179.29,211.18L186.56,218.45M179.29,218.18L186.56,225.45M179.29,225.18L186.56,232.45M179.29,232.18L186.56,239.45M179.29,239.18L186.56,246.45M179.29,246.18L186.56,253.45" stroke="#555" stroke-width="0.6" fill="none"/></g>
<rect x="180.29" y="95.74" width="5.27" height="146.36" fill="none" stroke="#111" stroke-width="0.9"/>
<g clip-path="url(#c24)"><rect x="185.56" y="95.74" width="5.27" height="146.36" fill="#b8b8e6"/><path d="M184.56,92.64L191.83,85.37M184.56,96.84L191.83,89.57M184.56,101.04L191.83,93.77M184.56,105.24L191.83,97.97M184.56,109.44L191.83,102.17M184.56,113.64L191.83,106.37M184.56,117.84L191.83,110.57M184.56,122.04L191.83,114.77M184.56,126.24L191.83,118.97M184.56,130.44L191.83,123.17M184.56,134.64L191.83,127.37M184.56,138.84L191.83,131.57M184.56,143.04L191.83,135.77M184.56,147.24L191.83,139.97M184.56,151.44L191.83,144.17M184.56,155.64L191.83,148.37M184.56,159.84L191.83,152.57M184.56,164.04L191.83,156.77M184.56,168.24L191.83,160.97M184.56,172.44L191.83,165.17M184.56,176.64L191.83,169.37M184.56,180.84L191.83,173.57M184.56,185.04L191.83,177.77M184.56,189.24L191.83,181.97M184.56,193.44L191.83,186.17M184.56,197.64L191.83,190.37M184.56,201.84L191.83,194.57M184.56,206.04L191.83,198.77M184.56,210.24L191.83,202.97M184.56,214.44L191.83,207.17M184.56,218.64L191.83,211.37M184.56,222.84L191.83,215.57M184.56,227.04L191.83,219.77M184.56,231.24L191.83,223.97M184.56,235.44L191.83,228.17M184.56,239.64L191.83,232.37M184.56,243.84L191.83,236.57M184.56,248.04L191.83,240.77M184.56,252.24L191.83,244.97" stroke="#4a4a60" stroke-width="0.75" fill="none"/><path d="M184.56,83.76L191.83,91.03M184.56,87.96L191.83,95.23M184.56,92.16L191.83,99.43M184.56,96.36L191.83,103.63M184.56,100.56L191.83,107.83M184.56,104.76L191.83,112.03M184.56,108.96L191.83,116.23M184.56,113.16L191.83,120.43M184.56,117.36L191.83,124.63M184.56,121.56L191.83,128.83M184.56,125.76L191.83,133.03M184.56,129.96L191.83,137.23M184.56,134.16L191.83,141.43M184.56,138.36L191.83,145.63M184.56,142.56L191.83,149.83M184.56,146.76L191.83,154.03M184.56,150.96L191.83,158.23M184.56,155.16L191.83,162.43M184.56,159.36L191.83,166.63M184.56,163.56L191.83,170.83M184.56,167.76L191.83,175.03M184.56,171.96L191.83,179.23M184.56,176.16L191.83,183.43M184.56,180.36L191.83,187.63M184.56,184.56L191.83,191.83M184.56,188.76L191.83,196.03M184.56,192.96L191.83,200.23M184.56,197.16L191.83,204.43M184.56,201.36L191.83,208.63M184.56,205.56L191.83,212.83M184.56,209.76L191.83,217.03M184.56,213.96L191.83,221.23M184.56,218.16L191.83,225.43M184.56,222.36L191.83,229.63M184.56,226.56L191.83,233.83M184.56,230.76L191.83,238.03M184.56,234.96L191.83,242.23M184.56,239.16L191.83,246.43M184.56,243.36L191.83,250.63" stroke="#4a4a60" stroke-width="0.75" fill="none"/></g>
<rect x="185.56" y="95.74" width="5.27" height="146.36" fill="none" stroke="#111" stroke-width="0.9"/>
<rect x="158.61" y="95.74" width="1.4" height="146.36" fill="#909090"/>
<g clip-path="url(#c25)"><rect x="198.90" y="76.15" width="5.27" height="165.95" fill="#fff"/><path d="M197.90,75.10L205.17,67.83M197.90,82.10L205.17,74.83M197.90,89.10L205.17,81.83M197.90,96.10L205.17,88.83M197.90,103.10L205.17,95.83M197.90,110.10L205.17,102.83M197.90,117.10L205.17,109.83M197.90,124.10L205.17,116.83M197.90,131.10L205.17,123.83M197.90,138.10L205.17,130.83M197.90,145.10L205.17,137.83M197.90,152.10L205.17,144.83M197.90,159.10L205.17,151.83M197.90,166.10L205.17,158.83M197.90,173.10L205.17,165.83M197.90,180.10L205.17,172.83M197.90,187.10L205.17,179.83M197.90,194.10L205.17,186.83M197.90,201.10L205.17,193.83M197.90,208.10L205.17,200.83M197.90,215.10L205.17,207.83M197.90,222.10L205.17,214.83M197.90,229.10L205.17,221.83M197.90,236.10L205.17,228.83M197.90,243.10L205.17,235.83M197.90,250.10L205.17,242.83M197.90,257.10L205.17,249.83" stroke="#8a8a8a" stroke-width="0.9" fill="none"/></g>
<rect x="198.90" y="76.15" width="5.27" height="165.95" fill="none" stroke="#111" stroke-width="0.9"/>
<g clip-path="url(#c26)"><rect x="204.17" y="76.15" width="5.27" height="165.95" fill="#fff"/><path d="M203.17,67.83L210.44,75.10M203.17,74.83L210.44,82.10M203.17,81.83L210.44,89.10M203.17,88.83L210.44,96.10M203.17,95.83L210.44,103.10M203.17,102.83L210.44,110.10M203.17,109.83L210.44,117.10M203.17,116.83L210.44,124.10M203.17,123.83L210.44,131.10M203.17,130.83L210.44,138.10M203.17,137.83L210.44,145.10M203.17,144.83L210.44,152.10M203.17,151.83L210.44,159.10M203.17,158.83L210.44,166.10M203.17,165.83L210.44,173.10M203.17,172.83L210.44,180.10M203.17,179.83L210.44,187.10M203.17,186.83L210.44,194.10M203.17,193.83L210.44,201.10M203.17,200.83L210.44,208.10M203.17,207.83L210.44,215.10M203.17,214.83L210.44,222.10M203.17,221.83L210.44,229.10M203.17,228.83L210.44,236.10M203.17,235.83L210.44,243.10M203.17,242.83L210.44,250.10M203.17,249.83L210.44,257.10" stroke="#8a8a8a" stroke-width="0.9" fill="none"/></g>
<rect x="204.17" y="76.15" width="5.27" height="165.95" fill="none" stroke="#111" stroke-width="0.9"/>
<g clip-path="url(#c27)"><rect x="209.44" y="76.15" width="5.27" height="165.95" fill="#f8f8f8"/><rect x="209.44" y="76.15" width="5.27" height="1.85" fill="#888"/><rect x="209.44" y="80.00" width="5.27" height="1.00" fill="#999"/><rect x="209.44" y="85.00" width="5.27" height="1.00" fill="#111"/><rect x="209.44" y="90.00" width="5.27" height="2.00" fill="#888"/><rect x="209.44" y="95.00" width="5.27" height="1.00" fill="#999"/><rect x="209.44" y="100.00" width="5.27" height="1.00" fill="#111"/><rect x="209.44" y="104.00" width="5.27" height="2.00" fill="#888"/><rect x="209.44" y="109.00" width="5.27" height="1.00" fill="#999"/><rect x="209.44" y="114.00" width="5.27" height="1.00" fill="#111"/><rect x="209.44" y="119.00" width="5.27" height="2.00" fill="#888"/><rect x="209.44" y="124.00" width="5.27" height="1.00" fill="#999"/><rect x="209.44" y="128.00" width="5.27" height="1.00" fill="#111"/><rect x="209.44" y="133.00" width="5.27" height="2.00" fill="#888"/><rect x="209.44" y="138.00" width="5.27" height="1.00" fill="#999"/><rect x="209.44" y="143.00" width="5.27" height="1.00" fill="#111"/><rect x="209.44" y="148.00" width="5.27" height="2.00" fill="#888"/><rect x="209.44" y="152.00" width="5.27" height="1.00" fill="#999"/><rect x="209.44" y="157.00" width="5.27" height="1.00" fill="#111"/><rect x="209.44" y="162.00" width="5.27" height="2.00" fill="#888"/><rect x="209.44" y="167.00" width="5.27" height="1.00" fill="#999"/><rect x="209.44" y="172.00" width="5.27" height="1.00" fill="#111"/><rect x="209.44" y="176.00" width="5.27" height="2.00" fill="#888"/><rect x="209.44" y="181.00" width="5.27" height="1.00" fill="#999"/><rect x="209.44" y="186.00" width="5.27" height="1.00" fill="#111"/><rect x="209.44" y="191.00" width="5.27" height="2.00" fill="#888"/><rect x="209.44" y="196.00" width="5.27" height="1.00" fill="#999"/><rect x="209.44" y="200.00" width="5.27" height="1.00" fill="#111"/><rect x="209.44" y="205.00" width="5.27" height="2.00" fill="#888"/><rect x="209.44" y="210.00" width="5.27" height="1.00" fill="#999"/><rect x="209.44" y="215.00" width="5.27" height="1.00" fill="#111"/><rect x="209.44" y="220.00" width="5.27" height="2.00" fill="#888"/><rect x="209.44" y="224.00" width="5.27" height="1.00" fill="#999"/><rect x="209.44" y="229.00" width="5.27" height="1.00" fill="#111"/><rect x="209.44" y="234.00" width="5.27" height="2.00" fill="#888"/><rect x="209.44" y="239.00" width="5.27" height="1.00" fill="#999"/></g>
<rect x="209.44" y="76.15" width="5.27" height="165.95" fill="none" stroke="#111" stroke-width="1.2"/>
<g clip-path="url(#c28)"><rect x="214.71" y="76.15" width="5.27" height="165.95" fill="#999"/><rect x="214.71" y="76.15" width="5.27" height="0.85" fill="#fff"/><rect x="214.71" y="76.15" width="5.27" height="0.85" fill="#000"/><rect x="214.71" y="83.00" width="5.27" height="5.00" fill="#fff"/><rect x="214.71" y="83.00" width="5.27" height="1.00" fill="#000"/><rect x="214.71" y="85.00" width="5.27" height="1.00" fill="#000"/><rect x="214.71" y="87.00" width="5.27" height="1.00" fill="#000"/><rect x="214.71" y="95.00" width="5.27" height="5.00" fill="#fff"/><rect x="214.71" y="95.00" width="5.27" height="1.00" fill="#000"/><rect x="214.71" y="97.00" width="5.27" height="1.00" fill="#000"/><rect x="214.71" y="99.00" width="5.27" height="1.00" fill="#000"/><rect x="214.71" y="107.00" width="5.27" height="5.00" fill="#fff"/><rect x="214.71" y="107.00" width="5.27" height="1.00" fill="#000"/><rect x="214.71" y="109.00" width="5.27" height="1.00" fill="#000"/><rect x="214.71" y="111.00" width="5.27" height="1.00" fill="#000"/><rect x="214.71" y="119.00" width="5.27" height="5.00" fill="#fff"/><rect x="214.71" y="119.00" width="5.27" height="1.00" fill="#000"/><rect x="214.71" y="121.00" width="5.27" height="1.00" fill="#000"/><rect x="214.71" y="123.00" width="5.27" height="1.00" fill="#000"/><rect x="214.71" y="131.00" width="5.27" height="5.00" fill="#fff"/><rect x="214.71" y="131.00" width="5.27" height="1.00" fill="#000"/><rect x="214.71" y="133.00" width="5.27" height="1.00" fill="#000"/><rect x="214.71" y="135.00" width="5.27" height="1.00" fill="#000"/><rect x="214.71" y="142.00" width="5.27" height="5.00" fill="#fff"/><rect x="214.71" y="142.00" width="5.27" height="1.00" fill="#000"/><rect x="214.71" y="144.00" width="5.27" height="1.00" fill="#000"/><rect x="214.71" y="146.00" width="5.27" height="1.00" fill="#000"/><rect x="214.71" y="154.00" width="5.27" height="5.00" fill="#fff"/><rect x="214.71" y="154.00" width="5.27" height="1.00" fill="#000"/><rect x="214.71" y="156.00" width="5.27" height="1.00" fill="#000"/><rect x="214.71" y="158.00" width="5.27" height="1.00" fill="#000"/><rect x="214.71" y="166.00" width="5.27" height="5.00" fill="#fff"/><rect x="214.71" y="166.00" width="5.27" height="1.00" fill="#000"/><rect x="214.71" y="168.00" width="5.27" height="1.00" fill="#000"/><rect x="214.71" y="170.00" width="5.27" height="1.00" fill="#000"/><rect x="214.71" y="178.00" width="5.27" height="5.00" fill="#fff"/><rect x="214.71" y="178.00" width="5.27" height="1.00" fill="#000"/><rect x="214.71" y="180.00" width="5.27" height="1.00" fill="#000"/><rect x="214.71" y="182.00" width="5.27" height="1.00" fill="#000"/><rect x="214.71" y="190.00" width="5.27" height="5.00" fill="#fff"/><rect x="214.71" y="190.00" width="5.27" height="1.00" fill="#000"/><rect x="214.71" y="192.00" width="5.27" height="1.00" fill="#000"/><rect x="214.71" y="194.00" width="5.27" height="1.00" fill="#000"/><rect x="214.71" y="201.00" width="5.27" height="5.00" fill="#fff"/><rect x="214.71" y="201.00" width="5.27" height="1.00" fill="#000"/><rect x="214.71" y="203.00" width="5.27" height="1.00" fill="#000"/><rect x="214.71" y="205.00" width="5.27" height="1.00" fill="#000"/><rect x="214.71" y="213.00" width="5.27" height="5.00" fill="#fff"/><rect x="214.71" y="213.00" width="5.27" height="1.00" fill="#000"/><rect x="214.71" y="215.00" width="5.27" height="1.00" fill="#000"/><rect x="214.71" y="217.00" width="5.27" height="1.00" fill="#000"/><rect x="214.71" y="225.00" width="5.27" height="5.00" fill="#fff"/><rect x="214.71" y="225.00" width="5.27" height="1.00" fill="#000"/><rect x="214.71" y="227.00" width="5.27" height="1.00" fill="#000"/><rect x="214.71" y="229.00" width="5.27" height="1.00" fill="#000"/><rect x="214.71" y="237.00" width="5.27" height="5.00" fill="#fff"/><rect x="214.71" y="237.00" width="5.27" height="1.00" fill="#000"/><rect x="214.71" y="239.00" width="5.27" height="1.00" fill="#000"/><rect x="214.71" y="241.00" width="5.27" height="1.00" fill="#000"/></g>
<rect x="214.71" y="76.15" width="5.27" height="165.95" fill="none" stroke="#111" stroke-width="1.2"/>
<g clip-path="url(#c29)"><rect x="219.98" y="76.15" width="5.27" height="165.95" fill="#d0d0fa"/><path d="M218.98,75.02L226.25,67.75M218.98,82.02L226.25,74.75M218.98,89.02L226.25,81.75M218.98,96.02L226.25,88.75M218.98,103.02L226.25,95.75M218.98,110.02L226.25,102.75M218.98,117.02L226.25,109.75M218.98,124.02L226.25,116.75M218.98,131.02L226.25,123.75M218.98,138.02L226.25,130.75M218.98,145.02L226.25,137.75M218.98,152.02L226.25,144.75M218.98,159.02L226.25,151.75M218.98,166.02L226.25,158.75M218.98,173.02L226.25,165.75M218.98,180.02L226.25,172.75M218.98,187.02L226.25,179.75M218.98,194.02L226.25,186.75M218.98,201.02L226.25,193.75M218.98,208.02L226.25,200.75M218.98,215.02L226.25,207.75M218.98,222.02L226.25,214.75M218.98,229.02L226.25,221.75M218.98,236.02L226.25,228.75M218.98,243.02L226.25,235.75M218.98,250.02L226.25,242.75M218.98,257.02L226.25,249.75" stroke="#555" stroke-width="0.6" fill="none"/><path d="M218.98,66.49L226.25,73.76M218.98,73.49L226.25,80.76M218.98,80.49L226.25,87.76M218.98,87.49L226.25,94.76M218.98,94.49L226.25,101.76M218.98,101.49L226.25,108.76M218.98,108.49L226.25,115.76M218.98,115.49L226.25,122.76M218.98,122.49L226.25,129.76M218.98,129.49L226.25,136.76M218.98,136.49L226.25,143.76M218.98,143.49L226.25,150.76M218.98,150.49L226.25,157.76M218.98,157.49L226.25,164.76M218.98,164.49L226.25,171.76M218.98,171.49L226.25,178.76M218.98,178.49L226.25,185.76M218.98,185.49L226.25,192.76M218.98,192.49L226.25,199.76M218.98,199.49L226.25,206.76M218.98,206.49L226.25,213.76M218.98,213.49L226.25,220.76M218.98,220.49L226.25,227.76M218.98,227.49L226.25,234.76M218.98,234.49L226.25,241.76M218.98,241.49L226.25,248.76M218.98,248.49L226.25,255.76" stroke="#555" stroke-width="0.6" fill="none"/></g>
<rect x="219.98" y="76.15" width="5.27" height="165.95" fill="none" stroke="#111" stroke-width="0.9"/>
<g clip-path="url(#c30)"><rect x="225.25" y="75.81" width="5.27" height="166.29" fill="#b8b8e6"/><path d="M224.25,73.95L231.52,66.68M224.25,78.15L231.52,70.88M224.25,82.35L231.52,75.08M224.25,86.55L231.52,79.28M224.25,90.75L231.52,83.48M224.25,94.95L231.52,87.68M224.25,99.15L231.52,91.88M224.25,103.35L231.52,96.08M224.25,107.55L231.52,100.28M224.25,111.75L231.52,104.48M224.25,115.95L231.52,108.68M224.25,120.15L231.52,112.88M224.25,124.35L231.52,117.08M224.25,128.55L231.52,121.28M224.25,132.75L231.52,125.48M224.25,136.95L231.52,129.68M224.25,141.15L231.52,133.88M224.25,145.35L231.52,138.08M224.25,149.55L231.52,142.28M224.25,153.75L231.52,146.48M224.25,157.95L231.52,150.68M224.25,162.15L231.52,154.88M224.25,166.35L231.52,159.08M224.25,170.55L231.52,163.28M224.25,174.75L231.52,167.48M224.25,178.95L231.52,171.68M224.25,183.15L231.52,175.88M224.25,187.35L231.52,180.08M224.25,191.55L231.52,184.28M224.25,195.75L231.52,188.48M224.25,199.95L231.52,192.68M224.25,204.15L231.52,196.88M224.25,208.35L231.52,201.08M224.25,212.55L231.52,205.28M224.25,216.75L231.52,209.48M224.25,220.95L231.52,213.68M224.25,225.15L231.52,217.88M224.25,229.35L231.52,222.08M224.25,233.55L231.52,226.28M224.25,237.75L231.52,230.48M224.25,241.95L231.52,234.68M224.25,246.15L231.52,238.88M224.25,250.35L231.52,243.08M224.25,254.55L231.52,247.28" stroke="#4a4a60" stroke-width="0.75" fill="none"/><path d="M224.25,64.65L231.52,71.92M224.25,68.85L231.52,76.12M224.25,73.05L231.52,80.32M224.25,77.25L231.52,84.52M224.25,81.45L231.52,88.72M224.25,85.65L231.52,92.92M224.25,89.85L231.52,97.12M224.25,94.05L231.52,101.32M224.25,98.25L231.52,105.52M224.25,102.45L231.52,109.72M224.25,106.65L231.52,113.92M224.25,110.85L231.52,118.12M224.25,115.05L231.52,122.32M224.25,119.25L231.52,126.52M224.25,123.45L231.52,130.72M224.25,127.65L231.52,134.92M224.25,131.85L231.52,139.12M224.25,136.05L231.52,143.32M224.25,140.25L231.52,147.52M224.25,144.45L231.52,151.72M224.25,148.65L231.52,155.92M224.25,152.85L231.52,160.12M224.25,157.05L231.52,164.32M224.25,161.25L231.52,168.52M224.25,165.45L231.52,172.72M224.25,169.65L231.52,176.92M224.25,173.85L231.52,181.12M224.25,178.05L231.52,185.32M224.25,182.25L231.52,189.52M224.25,186.45L231.52,193.72M224.25,190.65L231.52,197.92M224.25,194.85L231.52,202.12M224.25,199.05L231.52,206.32M224.25,203.25L231.52,210.52M224.25,207.45L231.52,214.72M224.25,211.65L231.52,218.92M224.25,215.85L231.52,223.12M224.25,220.05L231.52,227.32M224.25,224.25L231.52,231.52M224.25,228.45L231.52,235.72M224.25,232.65L231.52,239.92M224.25,236.85L231.52,244.12M224.25,241.05L231.52,248.32M224.25,245.25L231.52,252.52" stroke="#4a4a60" stroke-width="0.75" fill="none"/></g>
<rect x="225.25" y="75.81" width="5.27" height="166.29" fill="none" stroke="#111" stroke-width="0.9"/>
<rect x="198.30" y="76.15" width="1.4" height="165.95" fill="#909090"/>
<g clip-path="url(#c31)"><rect x="238.59" y="57.95" width="5.27" height="184.15" fill="#fff"/><path d="M237.59,56.41L244.86,49.14M237.59,63.41L244.86,56.14M237.59,70.41L244.86,63.14M237.59,77.41L244.86,70.14M237.59,84.41L244.86,77.14M237.59,91.41L244.86,84.14M237.59,98.41L244.86,91.14M237.59,105.41L244.86,98.14M237.59,112.41L244.86,105.14M237.59,119.41L244.86,112.14M237.59,126.41L244.86,119.14M237.59,133.41L244.86,126.14M237.59,140.41L244.86,133.14M237.59,147.41L244.86,140.14M237.59,154.41L244.86,147.14M237.59,161.41L244.86,154.14M237.59,168.41L244.86,161.14M237.59,175.41L244.86,168.14M237.59,182.41L244.86,175.14M237.59,189.41L244.86,182.14M237.59,196.41L244.86,189.14M237.59,203.41L244.86,196.14M237.59,210.41L244.86,203.14M237.59,217.41L244.86,210.14M237.59,224.41L244.86,217.14M237.59,231.41L244.86,224.14M237.59,238.41L244.86,231.14M237.59,245.41L244.86,238.14M237.59,252.41L244.86,245.14" stroke="#8a8a8a" stroke-width="0.9" fill="none"/></g>
<rect x="238.59" y="57.95" width="5.27" height="184.15" fill="none" stroke="#111" stroke-width="0.9"/>
<g clip-path="url(#c32)"><rect x="243.86" y="57.95" width="5.27" height="184.15" fill="#fff"/><path d="M242.86,49.14L250.13,56.41M242.86,56.14L250.13,63.41M242.86,63.14L250.13,70.41M242.86,70.14L250.13,77.41M242.86,77.14L250.13,84.41M242.86,84.14L250.13,91.41M242.86,91.14L250.13,98.41M242.86,98.14L250.13,105.41M242.86,105.14L250.13,112.41M242.86,112.14L250.13,119.41M242.86,119.14L250.13,126.41M242.86,126.14L250.13,133.41M242.86,133.14L250.13,140.41M242.86,140.14L250.13,147.41M242.86,147.14L250.13,154.41M242.86,154.14L250.13,161.41M242.86,161.14L250.13,168.41M242.86,168.14L250.13,175.41M242.86,175.14L250.13,182.41M242.86,182.14L250.13,189.41M242.86,189.14L250.13,196.41M242.86,196.14L250.13,203.41M242.86,203.14L250.13,210.41M242.86,210.14L250.13,217.41M242.86,217.14L250.13,224.41M242.86,224.14L250.13,231.41M242.86,231.14L250.13,238.41M242.86,238.14L250.13,245.41M242.86,245.14L250.13,252.41" stroke="#8a8a8a" stroke-width="0.9" fill="none"/></g>
<rect x="243.86" y="57.95" width="5.27" height="184.15" fill="none" stroke="#111" stroke-width="0.9"/>
<g clip-path="url(#c33)"><rect x="249.13" y="57.95" width="5.27" height="184.15" fill="#f8f8f8"/><rect x="249.13" y="61.00" width="5.27" height="2.00" fill="#888"/><rect x="249.13" y="66.00" width="5.27" height="1.00" fill="#999"/><rect x="249.13" y="71.00" width="5.27" height="1.00" fill="#111"/><rect x="249.13" y="76.00" width="5.27" height="2.00" fill="#888"/><rect x="249.13" y="80.00" width="5.27" height="1.00" fill="#999"/><rect x="249.13" y="85.00" width="5.27" height="1.00" fill="#111"/><rect x="249.13" y="90.00" width="5.27" height="2.00" fill="#888"/><rect x="249.13" y="95.00" width="5.27" height="1.00" fill="#999"/><rect x="249.13" y="100.00" width="5.27" height="1.00" fill="#111"/><rect x="249.13" y="104.00" width="5.27" height="2.00" fill="#888"/><rect x="249.13" y="109.00" width="5.27" height="1.00" fill="#999"/><rect x="249.13" y="114.00" width="5.27" height="1.00" fill="#111"/><rect x="249.13" y="119.00" width="5.27" height="2.00" fill="#888"/><rect x="249.13" y="124.00" width="5.27" height="1.00" fill="#999"/><rect x="249.13" y="128.00" width="5.27" height="1.00" fill="#111"/><rect x="249.13" y="133.00" width="5.27" height="2.00" fill="#888"/><rect x="249.13" y="138.00" width="5.27" height="1.00" fill="#999"/><rect x="249.13" y="143.00" width="5.27" height="1.00" fill="#111"/><rect x="249.13" y="148.00" width="5.27" height="2.00" fill="#888"/><rect x="249.13" y="152.00" width="5.27" height="1.00" fill="#999"/><rect x="249.13" y="157.00" width="5.27" height="1.00" fill="#111"/><rect x="249.13" y="162.00" width="5.27" height="2.00" fill="#888"/><rect x="249.13" y="167.00" width="5.27" height="1.00" fill="#999"/><rect x="249.13" y="172.00" width="5.27" height="1.00" fill="#111"/><rect x="249.13" y="176.00" width="5.27" height="2.00" fill="#888"/><rect x="249.13" y="181.00" width="5.27" height="1.00" fill="#999"/><rect x="249.13" y="186.00" width="5.27" height="1.00" fill="#111"/><rect x="249.13" y="191.00" width="5.27" height="2.00" fill="#888"/><rect x="249.13" y="196.00" width="5.27" height="1.00" fill="#999"/><rect x="249.13" y="200.00" width="5.27" height="1.00" fill="#111"/><rect x="249.13" y="205.00" width="5.27" height="2.00" fill="#888"/><rect x="249.13" y="210.00" width="5.27" height="1.00" fill="#999"/><rect x="249.13" y="215.00" width="5.27" height="1.00" fill="#111"/><rect x="249.13" y="220.00" width="5.27" height="2.00" fill="#888"/><rect x="249.13" y="224.00" width="5.27" height="1.00" fill="#999"/><rect x="249.13" y="229.00" width="5.27" height="1.00" fill="#111"/><rect x="249.13" y="234.00" width="5.27" height="2.00" fill="#888"/><rect x="249.13" y="239.00" width="5.27" height="1.00" fill="#999"/></g>
<rect x="249.13" y="57.95" width="5.27" height="184.15" fill="none" stroke="#111" stroke-width="1.2"/>
<g clip-path="url(#c34)"><rect x="254.40" y="57.95" width="5.27" height="184.15" fill="#999"/><rect x="254.40" y="60.00" width="5.27" height="5.00" fill="#fff"/><rect x="254.40" y="60.00" width="5.27" height="1.00" fill="#000"/><rect x="254.40" y="62.00" width="5.27" height="1.00" fill="#000"/><rect x="254.40" y="64.00" width="5.27" height="1.00" fill="#000"/><rect x="254.40" y="72.00" width="5.27" height="5.00" fill="#fff"/><rect x="254.40" y="72.00" width="5.27" height="1.00" fill="#000"/><rect x="254.40" y="74.00" width="5.27" height="1.00" fill="#000"/><rect x="254.40" y="76.00" width="5.27" height="1.00" fill="#000"/><rect x="254.40" y="83.00" width="5.27" height="5.00" fill="#fff"/><rect x="254.40" y="83.00" width="5.27" height="1.00" fill="#000"/><rect x="254.40" y="85.00" width="5.27" height="1.00" fill="#000"/><rect x="254.40" y="87.00" width="5.27" height="1.00" fill="#000"/><rect x="254.40" y="95.00" width="5.27" height="5.00" fill="#fff"/><rect x="254.40" y="95.00" width="5.27" height="1.00" fill="#000"/><rect x="254.40" y="97.00" width="5.27" height="1.00" fill="#000"/><rect x="254.40" y="99.00" width="5.27" height="1.00" fill="#000"/><rect x="254.40" y="107.00" width="5.27" height="5.00" fill="#fff"/><rect x="254.40" y="107.00" width="5.27" height="1.00" fill="#000"/><rect x="254.40" y="109.00" width="5.27" height="1.00" fill="#000"/><rect x="254.40" y="111.00" width="5.27" height="1.00" fill="#000"/><rect x="254.40" y="119.00" width="5.27" height="5.00" fill="#fff"/><rect x="254.40" y="119.00" width="5.27" height="1.00" fill="#000"/><rect x="254.40" y="121.00" width="5.27" height="1.00" fill="#000"/><rect x="254.40" y="123.00" width="5.27" height="1.00" fill="#000"/><rect x="254.40" y="131.00" width="5.27" height="5.00" fill="#fff"/><rect x="254.40" y="131.00" width="5.27" height="1.00" fill="#000"/><rect x="254.40" y="133.00" width="5.27" height="1.00" fill="#000"/><rect x="254.40" y="135.00" width="5.27" height="1.00" fill="#000"/><rect x="254.40" y="142.00" width="5.27" height="5.00" fill="#fff"/><rect x="254.40" y="142.00" width="5.27" height="1.00" fill="#000"/><rect x="254.40" y="144.00" width="5.27" height="1.00" fill="#000"/><rect x="254.40" y="146.00" width="5.27" height="1.00" fill="#000"/><rect x="254.40" y="154.00" width="5.27" height="5.00" fill="#fff"/><rect x="254.40" y="154.00" width="5.27" height="1.00" fill="#000"/><rect x="254.40" y="156.00" width="5.27" height="1.00" fill="#000"/><rect x="254.40" y="158.00" width="5.27" height="1.00" fill="#000"/><rect x="254.40" y="166.00" width="5.27" height="5.00" fill="#fff"/><rect x="254.40" y="166.00" width="5.27" height="1.00" fill="#000"/><rect x="254.40" y="168.00" width="5.27" height="1.00" fill="#000"/><rect x="254.40" y="170.00" width="5.27" height="1.00" fill="#000"/><rect x="254.40" y="178.00" width="5.27" height="5.00" fill="#fff"/><rect x="254.40" y="178.00" width="5.27" height="1.00" fill="#000"/><rect x="254.40" y="180.00" width="5.27" height="1.00" fill="#000"/><rect x="254.40" y="182.00" width="5.27" height="1.00" fill="#000"/><rect x="254.40" y="190.00" width="5.27" height="5.00" fill="#fff"/><rect x="254.40" y="190.00" width="5.27" height="1.00" fill="#000"/><rect x="254.40" y="192.00" width="5.27" height="1.00" fill="#000"/><rect x="254.40" y="194.00" width="5.27" height="1.00" fill="#000"/><rect x="254.40" y="201.00" width="5.27" height="5.00" fill="#fff"/><rect x="254.40" y="201.00" width="5.27" height="1.00" fill="#000"/><rect x="254.40" y="203.00" width="5.27" height="1.00" fill="#000"/><rect x="254.40" y="205.00" width="5.27" height="1.00" fill="#000"/><rect x="254.40" y="213.00" width="5.27" height="5.00" fill="#fff"/><rect x="254.40" y="213.00" width="5.27" height="1.00" fill="#000"/><rect x="254.40" y="215.00" width="5.27" height="1.00" fill="#000"/><rect x="254.40" y="217.00" width="5.27" height="1.00" fill="#000"/><rect x="254.40" y="225.00" width="5.27" height="5.00" fill="#fff"/><rect x="254.40" y="225.00" width="5.27" height="1.00" fill="#000"/><rect x="254.40" y="227.00" width="5.27" height="1.00" fill="#000"/><rect x="254.40" y="229.00" width="5.27" height="1.00" fill="#000"/><rect x="254.40" y="237.00" width="5.27" height="5.00" fill="#fff"/><rect x="254.40" y="237.00" width="5.27" height="1.00" fill="#000"/><rect x="254.40" y="239.00" width="5.27" height="1.00" fill="#000"/><rect x="254.40" y="241.00" width="5.27" height="1.00" fill="#000"/></g>
<rect x="254.40" y="57.95" width="5.27" height="184.15" fill="none" stroke="#111" stroke-width="1.2"/>
<g clip-path="url(#c35)"><rect x="259.67" y="57.95" width="5.27" height="184.15" fill="#d0d0fa"/><path d="M258.67,56.33L265.94,49.06M258.67,63.33L265.94,56.06M258.67,70.33L265.94,63.06M258.67,77.33L265.94,70.06M258.67,84.33L265.94,77.06M258.67,91.33L265.94,84.06M258.67,98.33L265.94,91.06M258.67,105.33L265.94,98.06M258.67,112.33L265.94,105.06M258.67,119.33L265.94,112.06M258.67,126.33L265.94,119.06M258.67,133.33L265.94,126.06M258.67,140.33L265.94,133.06M258.67,147.33L265.94,140.06M258.67,154.33L265.94,147.06M258.67,161.33L265.94,154.06M258.67,168.33L265.94,161.06M258.67,175.33L265.94,168.06M258.67,182.33L265.94,175.06M258.67,189.33L265.94,182.06M258.67,196.33L265.94,189.06M258.67,203.33L265.94,196.06M258.67,210.33L265.94,203.06M258.67,217.33L265.94,210.06M258.67,224.33L265.94,217.06M258.67,231.33L265.94,224.06M258.67,238.33L265.94,231.06M258.67,245.33L265.94,238.06M258.67,252.33L265.94,245.06" stroke="#555" stroke-width="0.6" fill="none"/><path d="M258.67,47.80L265.94,55.07M258.67,54.80L265.94,62.07M258.67,61.80L265.94,69.07M258.67,68.80L265.94,76.07M258.67,75.80L265.94,83.07M258.67,82.80L265.94,90.07M258.67,89.80L265.94,97.07M258.67,96.80L265.94,104.07M258.67,103.80L265.94,111.07M258.67,110.80L265.94,118.07M258.67,117.80L265.94,125.07M258.67,124.80L265.94,132.07M258.67,131.80L265.94,139.07M258.67,138.80L265.94,146.07M258.67,145.80L265.94,153.07M258.67,152.80L265.94,160.07M258.67,159.80L265.94,167.07M258.67,166.80L265.94,174.07M258.67,173.80L265.94,181.07M258.67,180.80L265.94,188.07M258.67,187.80L265.94,195.07M258.67,194.80L265.94,202.07M258.67,201.80L265.94,209.07M258.67,208.80L265.94,216.07M258.67,215.80L265.94,223.07M258.67,222.80L265.94,230.07M258.67,229.80L265.94,237.07M258.67,236.80L265.94,244.07M258.67,243.80L265.94,251.07" stroke="#555" stroke-width="0.6" fill="none"/></g>
<rect x="259.67" y="57.95" width="5.27" height="184.15" fill="none" stroke="#111" stroke-width="0.9"/>
<g clip-path="url(#c36)"><rect x="264.94" y="57.09" width="5.27" height="185.01" fill="#b8b8e6"/><path d="M263.94,55.26L271.21,47.99M263.94,59.46L271.21,52.19M263.94,63.66L271.21,56.39M263.94,67.86L271.21,60.59M263.94,72.06L271.21,64.79M263.94,76.26L271.21,68.99M263.94,80.46L271.21,73.19M263.94,84.66L271.21,77.39M263.94,88.86L271.21,81.59M263.94,93.06L271.21,85.79M263.94,97.26L271.21,89.99M263.94,101.46L271.21,94.19M263.94,105.66L271.21,98.39M263.94,109.86L271.21,102.59M263.94,114.06L271.21,106.79M263.94,118.26L271.21,110.99M263.94,122.46L271.21,115.19M263.94,126.66L271.21,119.39M263.94,130.86L271.21,123.59M263.94,135.06L271.21,127.79M263.94,139.26L271.21,131.99M263.94,143.46L271.21,136.19M263.94,147.66L271.21,140.39M263.94,151.86L271.21,144.59M263.94,156.06L271.21,148.79M263.94,160.26L271.21,152.99M263.94,164.46L271.21,157.19M263.94,168.66L271.21,161.39M263.94,172.86L271.21,165.59M263.94,177.06L271.21,169.79M263.94,181.26L271.21,173.99M263.94,185.46L271.21,178.19M263.94,189.66L271.21,182.39M263.94,193.86L271.21,186.59M263.94,198.06L271.21,190.79M263.94,202.26L271.21,194.99M263.94,206.46L271.21,199.19M263.94,210.66L271.21,203.39M263.94,214.86L271.21,207.59M263.94,219.06L271.21,211.79M263.94,223.26L271.21,215.99M263.94,227.46L271.21,220.19M263.94,231.66L271.21,224.39M263.94,235.86L271.21,228.59M263.94,240.06L271.21,232.79M263.94,244.26L271.21,236.99M263.94,248.46L271.21,241.19M263.94,252.66L271.21,245.39" stroke="#4a4a60" stroke-width="0.75" fill="none"/><path d="M263.94,45.54L271.21,52.81M263.94,49.74L271.21,57.01M263.94,53.94L271.21,61.21M263.94,58.14L271.21,65.41M263.94,62.34L271.21,69.61M263.94,66.54L271.21,73.81M263.94,70.74L271.21,78.01M263.94,74.94L271.21,82.21M263.94,79.14L271.21,86.41M263.94,83.34L271.21,90.61M263.94,87.54L271.21,94.81M263.94,91.74L271.21,99.01M263.94,95.94L271.21,103.21M263.94,100.14L271.21,107.41M263.94,104.34L271.21,111.61M263.94,108.54L271.21,115.81M263.94,112.74L271.21,120.01M263.94,116.94L271.21,124.21M263.94,121.14L271.21,128.41M263.94,125.34L271.21,132.61M263.94,129.54L271.21,136.81M263.94,133.74L271.21,141.01M263.94,137.94L271.21,145.21M263.94,142.14L271.21,149.41M263.94,146.34L271.21,153.61M263.94,150.54L271.21,157.81M263.94,154.74L271.21,162.01M263.94,158.94L271.21,166.21M263.94,163.14L271.21,170.41M263.94,167.34L271.21,174.61M263.94,171.54L271.21,178.81M263.94,175.74L271.21,183.01M263.94,179.94L271.21,187.21M263.94,184.14L271.21,191.41M263.94,188.34L271.21,195.61M263.94,192.54L271.21,199.81M263.94,196.74L271.21,204.01M263.94,200.94L271.21,208.21M263.94,205.14L271.21,212.41M263.94,209.34L271.21,216.61M263.94,213.54L271.21,220.81M263.94,217.74L271.21,225.01M263.94,221.94L271.21,229.21M263.94,226.14L271.21,233.41M263.94,230.34L271.21,237.61M263.94,234.54L271.21,241.81M263.94,238.74L271.21,246.01M263.94,242.94L271.21,250.21M263.94,247.14L271.21,254.41" stroke="#4a4a60" stroke-width="0.75" fill="none"/></g>
<rect x="264.94" y="57.09" width="5.27" height="185.01" fill="none" stroke="#111" stroke-width="0.9"/>
<rect x="237.99" y="57.95" width="1.4" height="184.15" fill="#909090"/>
<g clip-path="url(#c37)"><rect x="278.28" y="39.93" width="5.27" height="202.17" fill="#fff"/><path d="M277.28,37.72L284.55,30.45M277.28,44.72L284.55,37.45M277.28,51.72L284.55,44.45M277.28,58.72L284.55,51.45M277.28,65.72L284.55,58.45M277.28,72.72L284.55,65.45M277.28,79.72L284.55,72.45M277.28,86.72L284.55,79.45M277.28,93.72L284.55,86.45M277.28,100.72L284.55,93.45M277.28,107.72L284.55,100.45M277.28,114.72L284.55,107.45M277.28,121.72L284.55,114.45M277.28,128.72L284.55,121.45M277.28,135.72L284.55,128.45M277.28,142.72L284.55,135.45M277.28,149.72L284.55,142.45M277.28,156.72L284.55,149.45M277.28,163.72L284.55,156.45M277.28,170.72L284.55,163.45M277.28,177.72L284.55,170.45M277.28,184.72L284.55,177.45M277.28,191.72L284.55,184.45M277.28,198.72L284.55,191.45M277.28,205.72L284.55,198.45M277.28,212.72L284.55,205.45M277.28,219.72L284.55,212.45M277.28,226.72L284.55,219.45M277.28,233.72L284.55,226.45M277.28,240.72L284.55,233.45M277.28,247.72L284.55,240.45M277.28,254.72L284.55,247.45" stroke="#8a8a8a" stroke-width="0.9" fill="none"/></g>
<rect x="278.28" y="39.93" width="5.27" height="202.17" fill="none" stroke="#111" stroke-width="0.9"/>
<g clip-path="url(#c38)"><rect x="283.55" y="38.54" width="5.27" height="203.56" fill="#fff"/><path d="M282.55,23.45L289.82,30.72M282.55,30.45L289.82,37.72M282.55,37.45L289.82,44.72M282.55,44.45L289.82,51.72M282.55,51.45L289.82,58.72M282.55,58.45L289.82,65.72M282.55,65.45L289.82,72.72M282.55,72.45L289.82,79.72M282.55,79.45L289.82,86.72M282.55,86.45L289.82,93.72M282.55,93.45L289.82,100.72M282.55,100.45L289.82,107.72M282.55,107.45L289.82,114.72M282.55,114.45L289.82,121.72M282.55,121.45L289.82,128.72M282.55,128.45L289.82,135.72M282.55,135.45L289.82,142.72M282.55,142.45L289.82,149.72M282.55,149.45L289.82,156.72M282.55,156.45L289.82,163.72M282.55,163.45L289.82,170.72M282.55,170.45L289.82,177.72M282.55,177.45L289.82,184.72M282.55,184.45L289.82,191.72M282.55,191.45L289.82,198.72M282.55,198.45L289.82,205.72M282.55,205.45L289.82,212.72M282.55,212.45L289.82,219.72M282.55,219.45L289.82,226.72M282.55,226.45L289.82,233.72M282.55,233.45L289.82,240.72M282.55,240.45L289.82,247.72M282.55,247.45L289.82,254.72" stroke="#8a8a8a" stroke-width="0.9" fill="none"/></g>
<rect x="283.55" y="38.54" width="5.27" height="203.56" fill="none" stroke="#111" stroke-width="0.9"/>
<g clip-path="url(#c39)"><rect x="288.82" y="39.41" width="5.27" height="202.69" fill="#f8f8f8"/><rect x="288.82" y="42.00" width="5.27" height="1.00" fill="#111"/><rect x="288.82" y="47.00" width="5.27" height="2.00" fill="#888"/><rect x="288.82" y="52.00" width="5.27" height="1.00" fill="#999"/><rect x="288.82" y="56.00" width="5.27" height="1.00" fill="#111"/><rect x="288.82" y="61.00" width="5.27" height="2.00" fill="#888"/><rect x="288.82" y="66.00" width="5.27" height="1.00" fill="#999"/><rect x="288.82" y="71.00" width="5.27" height="1.00" fill="#111"/><rect x="288.82" y="76.00" width="5.27" height="2.00" fill="#888"/><rect x="288.82" y="80.00" width="5.27" height="1.00" fill="#999"/><rect x="288.82" y="85.00" width="5.27" height="1.00" fill="#111"/><rect x="288.82" y="90.00" width="5.27" height="2.00" fill="#888"/><rect x="288.82" y="95.00" width="5.27" height="1.00" fill="#999"/><rect x="288.82" y="100.00" width="5.27" height="1.00" fill="#111"/><rect x="288.82" y="104.00" width="5.27" height="2.00" fill="#888"/><rect x="288.82" y="109.00" width="5.27" height="1.00" fill="#999"/><rect x="288.82" y="114.00" width="5.27" height="1.00" fill="#111"/><rect x="288.82" y="119.00" width="5.27" height="2.00" fill="#888"/><rect x="288.82" y="124.00" width="5.27" height="1.00" fill="#999"/><rect x="288.82" y="128.00" width="5.27" height="1.00" fill="#111"/><rect x="288.82" y="133.00" width="5.27" height="2.00" fill="#888"/><rect x="288.82" y="138.00" width="5.27" height="1.00" fill="#999"/><rect x="288.82" y="143.00" width="5.27" height="1.00" fill="#111"/><rect x="288.82" y="148.00" width="5.27" height="2.00" fill="#888"/><rect x="288.82" y="152.00" width="5.27" height="1.00" fill="#999"/><rect x="288.82" y="157.00" width="5.27" height="1.00" fill="#111"/><rect x="288.82" y="162.00" width="5.27" height="2.00" fill="#888"/><rect x="288.82" y="167.00" width="5.27" height="1.00" fill="#999"/><rect x="288.82" y="172.00" width="5.27" height="1.00" fill="#111"/><rect x="288.82" y="176.00" width="5.27" height="2.00" fill="#888"/><rect x="288.82" y="181.00" width="5.27" height="1.00" fill="#999"/><rect x="288.82" y="186.00" width="5.27" height="1.00" fill="#111"/><rect x="288.82" y="191.00" width="5.27" height="2.00" fill="#888"/><rect x="288.82" y="196.00" width="5.27" height="1.00" fill="#999"/><rect x="288.82" y="200.00" width="5.27" height="1.00" fill="#111"/><rect x="288.82" y="205.00" width="5.27" height="2.00" fill="#888"/><rect x="288.82" y="210.00" width="5.27" height="1.00" fill="#999"/><rect x="288.82" y="215.00" width="5.27" height="1.00" fill="#111"/><rect x="288.82" y="220.00" width="5.27" height="2.00" fill="#888"/><rect x="288.82" y="224.00" width="5.27" height="1.00" fill="#999"/><rect x="288.82" y="229.00" width="5.27" height="1.00" fill="#111"/><rect x="288.82" y="234.00" width="5.27" height="2.00" fill="#888"/><rect x="288.82" y="239.00" width="5.27" height="1.00" fill="#999"/></g>
<rect x="288.82" y="39.41" width="5.27" height="202.69" fill="none" stroke="#111" stroke-width="1.2"/>
<g clip-path="url(#c40)"><rect x="294.09" y="39.41" width="5.27" height="202.69" fill="#999"/><rect x="294.09" y="39.41" width="5.27" height="1.59" fill="#fff"/><rect x="294.09" y="40.00" width="5.27" height="1.00" fill="#000"/><rect x="294.09" y="48.00" width="5.27" height="5.00" fill="#fff"/><rect x="294.09" y="48.00" width="5.27" height="1.00" fill="#000"/><rect x="294.09" y="50.00" width="5.27" height="1.00" fill="#000"/><rect x="294.09" y="52.00" width="5.27" height="1.00" fill="#000"/><rect x="294.09" y="60.00" width="5.27" height="5.00" fill="#fff"/><rect x="294.09" y="60.00" width="5.27" height="1.00" fill="#000"/><rect x="294.09" y="62.00" width="5.27" height="1.00" fill="#000"/><rect x="294.09" y="64.00" width="5.27" height="1.00" fill="#000"/><rect x="294.09" y="72.00" width="5.27" height="5.00" fill="#fff"/><rect x="294.09" y="72.00" width="5.27" height="1.00" fill="#000"/><rect x="294.09" y="74.00" width="5.27" height="1.00" fill="#000"/><rect x="294.09" y="76.00" width="5.27" height="1.00" fill="#000"/><rect x="294.09" y="83.00" width="5.27" height="5.00" fill="#fff"/><rect x="294.09" y="83.00" width="5.27" height="1.00" fill="#000"/><rect x="294.09" y="85.00" width="5.27" height="1.00" fill="#000"/><rect x="294.09" y="87.00" width="5.27" height="1.00" fill="#000"/><rect x="294.09" y="95.00" width="5.27" height="5.00" fill="#fff"/><rect x="294.09" y="95.00" width="5.27" height="1.00" fill="#000"/><rect x="294.09" y="97.00" width="5.27" height="1.00" fill="#000"/><rect x="294.09" y="99.00" width="5.27" height="1.00" fill="#000"/><rect x="294.09" y="107.00" width="5.27" height="5.00" fill="#fff"/><rect x="294.09" y="107.00" width="5.27" height="1.00" fill="#000"/><rect x="294.09" y="109.00" width="5.27" height="1.00" fill="#000"/><rect x="294.09" y="111.00" width="5.27" height="1.00" fill="#000"/><rect x="294.09" y="119.00" width="5.27" height="5.00" fill="#fff"/><rect x="294.09" y="119.00" width="5.27" height="1.00" fill="#000"/><rect x="294.09" y="121.00" width="5.27" height="1.00" fill="#000"/><rect x="294.09" y="123.00" width="5.27" height="1.00" fill="#000"/><rect x="294.09" y="131.00" width="5.27" height="5.00" fill="#fff"/><rect x="294.09" y="131.00" width="5.27" height="1.00" fill="#000"/><rect x="294.09" y="133.00" width="5.27" height="1.00" fill="#000"/><rect x="294.09" y="135.00" width="5.27" height="1.00" fill="#000"/><rect x="294.09" y="142.00" width="5.27" height="5.00" fill="#fff"/><rect x="294.09" y="142.00" width="5.27" height="1.00" fill="#000"/><rect x="294.09" y="144.00" width="5.27" height="1.00" fill="#000"/><rect x="294.09" y="146.00" width="5.27" height="1.00" fill="#000"/><rect x="294.09" y="154.00" width="5.27" height="5.00" fill="#fff"/><rect x="294.09" y="154.00" width="5.27" height="1.00" fill="#000"/><rect x="294.09" y="156.00" width="5.27" height="1.00" fill="#000"/><rect x="294.09" y="158.00" width="5.27" height="1.00" fill="#000"/><rect x="294.09" y="166.00" width="5.27" height="5.00" fill="#fff"/><rect x="294.09" y="166.00" width="5.27" height="1.00" fill="#000"/><rect x="294.09" y="168.00" width="5.27" height="1.00" fill="#000"/><rect x="294.09" y="170.00" width="5.27" height="1.00" fill="#000"/><rect x="294.09" y="178.00" width="5.27" height="5.00" fill="#fff"/><rect x="294.09" y="178.00" width="5.27" height="1.00" fill="#000"/><rect x="294.09" y="180.00" width="5.27" height="1.00" fill="#000"/><rect x="294.09" y="182.00" width="5.27" height="1.00" fill="#000"/><rect x="294.09" y="190.00" width="5.27" height="5.00" fill="#fff"/><rect x="294.09" y="190.00" width="5.27" height="1.00" fill="#000"/><rect x="294.09" y="192.00" width="5.27" height="1.00" fill="#000"/><rect x="294.09" y="194.00" width="5.27" height="1.00" fill="#000"/><rect x="294.09" y="201.00" width="5.27" height="5.00" fill="#fff"/><rect x="294.09" y="201.00" width="5.27" height="1.00" fill="#000"/><rect x="294.09" y="203.00" width="5.27" height="1.00" fill="#000"/><rect x="294.09" y="205.00" width="5.27" height="1.00" fill="#000"/><rect x="294.09" y="213.00" width="5.27" height="5.00" fill="#fff"/><rect x="294.09" y="213.00" width="5.27" height="1.00" fill="#000"/><rect x="294.09" y="215.00" width="5.27" height="1.00" fill="#000"/><rect x="294.09" y="217.00" width="5.27" height="1.00" fill="#000"/><rect x="294.09" y="225.00" width="5.27" height="5.00" fill="#fff"/><rect x="294.09" y="225.00" width="5.27" height="1.00" fill="#000"/><rect x="294.09" y="227.00" width="5.27" height="1.00" fill="#000"/><rect x="294.09" y="229.00" width="5.27" height="1.00" fill="#000"/><rect x="294.09" y="237.00" width="5.27" height="5.00" fill="#fff"/><rect x="294.09" y="237.00" width="5.27" height="1.00" fill="#000"/><rect x="294.09" y="239.00" width="5.27" height="1.00" fill="#000"/><rect x="294.09" y="241.00" width="5.27" height="1.00" fill="#000"/></g>
<rect x="294.09" y="39.41" width="5.27" height="202.69" fill="none" stroke="#111" stroke-width="1.2"/>
<g clip-path="url(#c41)"><rect x="299.36" y="39.41" width="5.27" height="202.69" fill="#d0d0fa"/><path d="M298.36,37.64L305.63,30.37M298.36,44.64L305.63,37.37M298.36,51.64L305.63,44.37M298.36,58.64L305.63,51.37M298.36,65.64L305.63,58.37M298.36,72.64L305.63,65.37M298.36,79.64L305.63,72.37M298.36,86.64L305.63,79.37M298.36,93.64L305.63,86.37M298.36,100.64L305.63,93.37M298.36,107.64L305.63,100.37M298.36,114.64L305.63,107.37M298.36,121.64L305.63,114.37M298.36,128.64L305.63,121.37M298.36,135.64L305.63,128.37M298.36,142.64L305.63,135.37M298.36,149.64L305.63,142.37M298.36,156.64L305.63,149.37M298.36,163.64L305.63,156.37M298.36,170.64L305.63,163.37M298.36,177.64L305.63,170.37M298.36,184.64L305.63,177.37M298.36,191.64L305.63,184.37M298.36,198.64L305.63,191.37M298.36,205.64L305.63,198.37M298.36,212.64L305.63,205.37M298.36,219.64L305.63,212.37M298.36,226.64L305.63,219.37M298.36,233.64L305.63,226.37M298.36,240.64L305.63,233.37M298.36,247.64L305.63,240.37M298.36,254.64L305.63,247.37" stroke="#555" stroke-width="0.6" fill="none"/><path d="M298.36,29.11L305.63,36.38M298.36,36.11L305.63,43.38M298.36,43.11L305.63,50.38M298.36,50.11L305.63,57.38M298.36,57.11L305.63,64.38M298.36,64.11L305.63,71.38M298.36,71.11L305.63,78.38M298.36,78.11L305.63,85.38M298.36,85.11L305.63,92.38M298.36,92.11L305.63,99.38M298.36,99.11L305.63,106.38M298.36,106.11L305.63,113.38M298.36,113.11L305.63,120.38M298.36,120.11L305.63,127.38M298.36,127.11L305.63,134.38M298.36,134.11L305.63,141.38M298.36,141.11L305.63,148.38M298.36,148.11L305.63,155.38M298.36,155.11L305.63,162.38M298.36,162.11L305.63,169.38M298.36,169.11L305.63,176.38M298.36,176.11L305.63,183.38M298.36,183.11L305.63,190.38M298.36,190.11L305.63,197.38M298.36,197.11L305.63,204.38M298.36,204.11L305.63,211.38M298.36,211.11L305.63,218.38M298.36,218.11L305.63,225.38M298.36,225.11L305.63,232.38M298.36,232.11L305.63,239.38M298.36,239.11L305.63,246.38M298.36,246.11L305.63,253.38" stroke="#555" stroke-width="0.6" fill="none"/></g>
<rect x="299.36" y="39.41" width="5.27" height="202.69" fill="none" stroke="#111" stroke-width="0.9"/>
<g clip-path="url(#c42)"><rect x="304.63" y="39.41" width="5.27" height="202.69" fill="#b8b8e6"/><path d="M303.63,36.57L310.90,29.30M303.63,40.77L310.90,33.50M303.63,44.97L310.90,37.70M303.63,49.17L310.90,41.90M303.63,53.37L310.90,46.10M303.63,57.57L310.90,50.30M303.63,61.77L310.90,54.50M303.63,65.97L310.90,58.70M303.63,70.17L310.90,62.90M303.63,74.37L310.90,67.10M303.63,78.57L310.90,71.30M303.63,82.77L310.90,75.50M303.63,86.97L310.90,79.70M303.63,91.17L310.90,83.90M303.63,95.37L310.90,88.10M303.63,99.57L310.90,92.30M303.63,103.77L310.90,96.50M303.63,107.97L310.90,100.70M303.63,112.17L310.90,104.90M303.63,116.37L310.90,109.10M303.63,120.57L310.90,113.30M303.63,124.77L310.90,117.50M303.63,128.97L310.90,121.70M303.63,133.17L310.90,125.90M303.63,137.37L310.90,130.10M303.63,141.57L310.90,134.30M303.63,145.77L310.90,138.50M303.63,149.97L310.90,142.70M303.63,154.17L310.90,146.90M303.63,158.37L310.90,151.10M303.63,162.57L310.90,155.30M303.63,166.77L310.90,159.50M303.63,170.97L310.90,163.70M303.63,175.17L310.90,167.90M303.63,179.37L310.90,172.10M303.63,183.57L310.90,176.30M303.63,187.77L310.90,180.50M303.63,191.97L310.90,184.70M303.63,196.17L310.90,188.90M303.63,200.37L310.90,193.10M303.63,204.57L310.90,197.30M303.63,208.77L310.90,201.50M303.63,212.97L310.90,205.70M303.63,217.17L310.90,209.90M303.63,221.37L310.90,214.10M303.63,225.57L310.90,218.30M303.63,229.77L310.90,222.50M303.63,233.97L310.90,226.70M303.63,238.17L310.90,230.90M303.63,242.37L310.90,235.10M303.63,246.57L310.90,239.30M303.63,250.77L310.90,243.50" stroke="#4a4a60" stroke-width="0.75" fill="none"/><path d="M303.63,30.63L310.90,37.90M303.63,34.83L310.90,42.10M303.63,39.03L310.90,46.30M303.63,43.23L310.90,50.50M303.63,47.43L310.90,54.70M303.63,51.63L310.90,58.90M303.63,55.83L310.90,63.10M303.63,60.03L310.90,67.30M303.63,64.23L310.90,71.50M303.63,68.43L310.90,75.70M303.63,72.63L310.90,79.90M303.63,76.83L310.90,84.10M303.63,81.03L310.90,88.30M303.63,85.23L310.90,92.50M303.63,89.43L310.90,96.70M303.63,93.63L310.90,100.90M303.63,97.83L310.90,105.10M303.63,102.03L310.90,109.30M303.63,106.23L310.90,113.50M303.63,110.43L310.90,117.70M303.63,114.63L310.90,121.90M303.63,118.83L310.90,126.10M303.63,123.03L310.90,130.30M303.63,127.23L310.90,134.50M303.63,131.43L310.90,138.70M303.63,135.63L310.90,142.90M303.63,139.83L310.90,147.10M303.63,144.03L310.90,151.30M303.63,148.23L310.90,155.50M303.63,152.43L310.90,159.70M303.63,156.63L310.90,163.90M303.63,160.83L310.90,168.10M303.63,165.03L310.90,172.30M303.63,169.23L310.90,176.50M303.63,173.43L310.90,180.70M303.63,177.63L310.90,184.90M303.63,181.83L310.90,189.10M303.63,186.03L310.90,193.30M303.63,190.23L310.90,197.50M303.63,194.43L310.90,201.70M303.63,198.63L310.90,205.90M303.63,202.83L310.90,210.10M303.63,207.03L310.90,214.30M303.63,211.23L310.90,218.50M303.63,215.43L310.90,222.70M303.63,219.63L310.90,226.90M303.63,223.83L310.90,231.10M303.63,228.03L310.90,235.30M303.63,232.23L310.90,239.50M303.63,236.43L310.90,243.70M303.63,240.63L310.90,247.90M303.63,244.83L310.90,252.10" stroke="#4a4a60" stroke-width="0.75" fill="none"/></g>
<rect x="304.63" y="39.41" width="5.27" height="202.69" fill="none" stroke="#111" stroke-width="0.9"/>
<rect x="277.68" y="39.93" width="1.4" height="202.17" fill="#909090"/>
<g clip-path="url(#c43)"><rect x="317.97" y="21.38" width="5.27" height="220.72" fill="#fff"/><path d="M316.97,19.03L324.24,11.76M316.97,26.03L324.24,18.76M316.97,33.03L324.24,25.76M316.97,40.03L324.24,32.76M316.97,47.03L324.24,39.76M316.97,54.03L324.24,46.76M316.97,61.03L324.24,53.76M316.97,68.03L324.24,60.76M316.97,75.03L324.24,67.76M316.97,82.03L324.24,74.76M316.97,89.03L324.24,81.76M316.97,96.03L324.24,88.76M316.97,103.03L324.24,95.76M316.97,110.03L324.24,102.76M316.97,117.03L324.24,109.76M316.97,124.03L324.24,116.76M316.97,131.03L324.24,123.76M316.97,138.03L324.24,130.76M316.97,145.03L324.24,137.76M316.97,152.03L324.24,144.76M316.97,159.03L324.24,151.76M316.97,166.03L324.24,158.76M316.97,173.03L324.24,165.76M316.97,180.03L324.24,172.76M316.97,187.03L324.24,179.76M316.97,194.03L324.24,186.76M316.97,201.03L324.24,193.76M316.97,208.03L324.24,200.76M316.97,215.03L324.24,207.76M316.97,222.03L324.24,214.76M316.97,229.03L324.24,221.76M316.97,236.03L324.24,228.76M316.97,243.03L324.24,235.76M316.97,250.03L324.24,242.76M316.97,257.03L324.24,249.76" stroke="#8a8a8a" stroke-width="0.9" fill="none"/></g>
<rect x="317.97" y="21.38" width="5.27" height="220.72" fill="none" stroke="#111" stroke-width="0.9"/>
<g clip-path="url(#c44)"><rect x="323.24" y="20.86" width="5.27" height="221.24" fill="#fff"/><path d="M322.24,11.76L329.51,19.03M322.24,18.76L329.51,26.03M322.24,25.76L329.51,33.03M322.24,32.76L329.51,40.03M322.24,39.76L329.51,47.03M322.24,46.76L329.51,54.03M322.24,53.76L329.51,61.03M322.24,60.76L329.51,68.03M322.24,67.76L329.51,75.03M322.24,74.76L329.51,82.03M322.24,81.76L329.51,89.03M322.24,88.76L329.51,96.03M322.24,95.76L329.51,103.03M322.24,102.76L329.51,110.03M322.24,109.76L329.51,117.03M322.24,116.76L329.51,124.03M322.24,123.76L329.51,131.03M322.24,130.76L329.51,138.03M322.24,137.76L329.51,145.03M322.24,144.76L329.51,152.03M322.24,151.76L329.51,159.03M322.24,158.76L329.51,166.03M322.24,165.76L329.51,173.03M322.24,172.76L329.51,180.03M322.24,179.76L329.51,187.03M322.24,186.76L329.51,194.03M322.24,193.76L329.51,201.03M322.24,200.76L329.51,208.03M322.24,207.76L329.51,215.03M322.24,214.76L329.51,222.03M322.24,221.76L329.51,229.03M322.24,228.76L329.51,236.03M322.24,235.76L329.51,243.03M322.24,242.76L329.51,250.03M322.24,249.76L329.51,257.03" stroke="#8a8a8a" stroke-width="0.9" fill="none"/></g>
<rect x="323.24" y="20.86" width="5.27" height="221.24" fill="none" stroke="#111" stroke-width="0.9"/>
<g clip-path="url(#c45)"><rect x="328.51" y="20.86" width="5.27" height="221.24" fill="#f8f8f8"/><rect x="328.51" y="23.00" width="5.27" height="1.00" fill="#999"/><rect x="328.51" y="28.00" width="5.27" height="1.00" fill="#111"/><rect x="328.51" y="32.00" width="5.27" height="2.00" fill="#888"/><rect x="328.51" y="37.00" width="5.27" height="1.00" fill="#999"/><rect x="328.51" y="42.00" width="5.27" height="1.00" fill="#111"/><rect x="328.51" y="47.00" width="5.27" height="2.00" fill="#888"/><rect x="328.51" y="52.00" width="5.27" height="1.00" fill="#999"/><rect x="328.51" y="56.00" width="5.27" height="1.00" fill="#111"/><rect x="328.51" y="61.00" width="5.27" height="2.00" fill="#888"/><rect x="328.51" y="66.00" width="5.27" height="1.00" fill="#999"/><rect x="328.51" y="71.00" width="5.27" height="1.00" fill="#111"/><rect x="328.51" y="76.00" width="5.27" height="2.00" fill="#888"/><rect x="328.51" y="80.00" width="5.27" height="1.00" fill="#999"/><rect x="328.51" y="85.00" width="5.27" height="1.00" fill="#111"/><rect x="328.51" y="90.00" width="5.27" height="2.00" fill="#888"/><rect x="328.51" y="95.00" width="5.27" height="1.00" fill="#999"/><rect x="328.51" y="100.00" width="5.27" height="1.00" fill="#111"/><rect x="328.51" y="104.00" width="5.27" height="2.00" fill="#888"/><rect x="328.51" y="109.00" width="5.27" height="1.00" fill="#999"/><rect x="328.51" y="114.00" width="5.27" height="1.00" fill="#111"/><rect x="328.51" y="119.00" width="5.27" height="2.00" fill="#888"/><rect x="328.51" y="124.00" width="5.27" height="1.00" fill="#999"/><rect x="328.51" y="128.00" width="5.27" height="1.00" fill="#111"/><rect x="328.51" y="133.00" width="5.27" height="2.00" fill="#888"/><rect x="328.51" y="138.00" width="5.27" height="1.00" fill="#999"/><rect x="328.51" y="143.00" width="5.27" height="1.00" fill="#111"/><rect x="328.51" y="148.00" width="5.27" height="2.00" fill="#888"/><rect x="328.51" y="152.00" width="5.27" height="1.00" fill="#999"/><rect x="328.51" y="157.00" width="5.27" height="1.00" fill="#111"/><rect x="328.51" y="162.00" width="5.27" height="2.00" fill="#888"/><rect x="328.51" y="167.00" width="5.27" height="1.00" fill="#999"/><rect x="328.51" y="172.00" width="5.27" height="1.00" fill="#111"/><rect x="328.51" y="176.00" width="5.27" height="2.00" fill="#888"/><rect x="328.51" y="181.00" width="5.27" height="1.00" fill="#999"/><rect x="328.51" y="186.00" width="5.27" height="1.00" fill="#111"/><rect x="328.51" y="191.00" width="5.27" height="2.00" fill="#888"/><rect x="328.51" y="196.00" width="5.27" height="1.00" fill="#999"/><rect x="328.51" y="200.00" width="5.27" height="1.00" fill="#111"/><rect x="328.51" y="205.00" width="5.27" height="2.00" fill="#888"/><rect x="328.51" y="210.00" width="5.27" height="1.00" fill="#999"/><rect x="328.51" y="215.00" width="5.27" height="1.00" fill="#111"/><rect x="328.51" y="220.00" width="5.27" height="2.00" fill="#888"/><rect x="328.51" y="224.00" width="5.27" height="1.00" fill="#999"/><rect x="328.51" y="229.00" width="5.27" height="1.00" fill="#111"/><rect x="328.51" y="234.00" width="5.27" height="2.00" fill="#888"/><rect x="328.51" y="239.00" width="5.27" height="1.00" fill="#999"/></g>
<rect x="328.51" y="20.86" width="5.27" height="221.24" fill="none" stroke="#111" stroke-width="1.2"/>
<g clip-path="url(#c46)"><rect x="333.78" y="20.86" width="5.27" height="221.24" fill="#999"/><rect x="333.78" y="24.00" width="5.27" height="5.00" fill="#fff"/><rect x="333.78" y="24.00" width="5.27" height="1.00" fill="#000"/><rect x="333.78" y="26.00" width="5.27" height="1.00" fill="#000"/><rect x="333.78" y="28.00" width="5.27" height="1.00" fill="#000"/><rect x="333.78" y="36.00" width="5.27" height="5.00" fill="#fff"/><rect x="333.78" y="36.00" width="5.27" height="1.00" fill="#000"/><rect x="333.78" y="38.00" width="5.27" height="1.00" fill="#000"/><rect x="333.78" y="40.00" width="5.27" height="1.00" fill="#000"/><rect x="333.78" y="48.00" width="5.27" height="5.00" fill="#fff"/><rect x="333.78" y="48.00" width="5.27" height="1.00" fill="#000"/><rect x="333.78" y="50.00" width="5.27" height="1.00" fill="#000"/><rect x="333.78" y="52.00" width="5.27" height="1.00" fill="#000"/><rect x="333.78" y="60.00" width="5.27" height="5.00" fill="#fff"/><rect x="333.78" y="60.00" width="5.27" height="1.00" fill="#000"/><rect x="333.78" y="62.00" width="5.27" height="1.00" fill="#000"/><rect x="333.78" y="64.00" width="5.27" height="1.00" fill="#000"/><rect x="333.78" y="72.00" width="5.27" height="5.00" fill="#fff"/><rect x="333.78" y="72.00" width="5.27" height="1.00" fill="#000"/><rect x="333.78" y="74.00" width="5.27" height="1.00" fill="#000"/><rect x="333.78" y="76.00" width="5.27" height="1.00" fill="#000"/><rect x="333.78" y="83.00" width="5.27" height="5.00" fill="#fff"/><rect x="333.78" y="83.00" width="5.27" height="1.00" fill="#000"/><rect x="333.78" y="85.00" width="5.27" height="1.00" fill="#000"/><rect x="333.78" y="87.00" width="5.27" height="1.00" fill="#000"/><rect x="333.78" y="95.00" width="5.27" height="5.00" fill="#fff"/><rect x="333.78" y="95.00" width="5.27" height="1.00" fill="#000"/><rect x="333.78" y="97.00" width="5.27" height="1.00" fill="#000"/><rect x="333.78" y="99.00" width="5.27" height="1.00" fill="#000"/><rect x="333.78" y="107.00" width="5.27" height="5.00" fill="#fff"/><rect x="333.78" y="107.00" width="5.27" height="1.00" fill="#000"/><rect x="333.78" y="109.00" width="5.27" height="1.00" fill="#000"/><rect x="333.78" y="111.00" width="5.27" height="1.00" fill="#000"/><rect x="333.78" y="119.00" width="5.27" height="5.00" fill="#fff"/><rect x="333.78" y="119.00" width="5.27" height="1.00" fill="#000"/><rect x="333.78" y="121.00" width="5.27" height="1.00" fill="#000"/><rect x="333.78" y="123.00" width="5.27" height="1.00" fill="#000"/><rect x="333.78" y="131.00" width="5.27" height="5.00" fill="#fff"/><rect x="333.78" y="131.00" width="5.27" height="1.00" fill="#000"/><rect x="333.78" y="133.00" width="5.27" height="1.00" fill="#000"/><rect x="333.78" y="135.00" width="5.27" height="1.00" fill="#000"/><rect x="333.78" y="142.00" width="5.27" height="5.00" fill="#fff"/><rect x="333.78" y="142.00" width="5.27" height="1.00" fill="#000"/><rect x="333.78" y="144.00" width="5.27" height="1.00" fill="#000"/><rect x="333.78" y="146.00" width="5.27" height="1.00" fill="#000"/><rect x="333.78" y="154.00" width="5.27" height="5.00" fill="#fff"/><rect x="333.78" y="154.00" width="5.27" height="1.00" fill="#000"/><rect x="333.78" y="156.00" width="5.27" height="1.00" fill="#000"/><rect x="333.78" y="158.00" width="5.27" height="1.00" fill="#000"/><rect x="333.78" y="166.00" width="5.27" height="5.00" fill="#fff"/><rect x="333.78" y="166.00" width="5.27" height="1.00" fill="#000"/><rect x="333.78" y="168.00" width="5.27" height="1.00" fill="#000"/><rect x="333.78" y="170.00" width="5.27" height="1.00" fill="#000"/><rect x="333.78" y="178.00" width="5.27" height="5.00" fill="#fff"/><rect x="333.78" y="178.00" width="5.27" height="1.00" fill="#000"/><rect x="333.78" y="180.00" width="5.27" height="1.00" fill="#000"/><rect x="333.78" y="182.00" width="5.27" height="1.00" fill="#000"/><rect x="333.78" y="190.00" width="5.27" height="5.00" fill="#fff"/><rect x="333.78" y="190.00" width="5.27" height="1.00" fill="#000"/><rect x="333.78" y="192.00" width="5.27" height="1.00" fill="#000"/><rect x="333.78" y="194.00" width="5.27" height="1.00" fill="#000"/><rect x="333.78" y="201.00" width="5.27" height="5.00" fill="#fff"/><rect x="333.78" y="201.00" width="5.27" height="1.00" fill="#000"/><rect x="333.78" y="203.00" width="5.27" height="1.00" fill="#000"/><rect x="333.78" y="205.00" width="5.27" height="1.00" fill="#000"/><rect x="333.78" y="213.00" width="5.27" height="5.00" fill="#fff"/><rect x="333.78" y="213.00" width="5.27" height="1.00" fill="#000"/><rect x="333.78" y="215.00" width="5.27" height="1.00" fill="#000"/><rect x="333.78" y="217.00" width="5.27" height="1.00" fill="#000"/><rect x="333.78" y="225.00" width="5.27" height="5.00" fill="#fff"/><rect x="333.78" y="225.00" width="5.27" height="1.00" fill="#000"/><rect x="333.78" y="227.00" width="5.27" height="1.00" fill="#000"/><rect x="333.78" y="229.00" width="5.27" height="1.00" fill="#000"/><rect x="333.78" y="237.00" width="5.27" height="5.00" fill="#fff"/><rect x="333.78" y="237.00" width="5.27" height="1.00" fill="#000"/><rect x="333.78" y="239.00" width="5.27" height="1.00" fill="#000"/><rect x="333.78" y="241.00" width="5.27" height="1.00" fill="#000"/></g>
<rect x="333.78" y="20.86" width="5.27" height="221.24" fill="none" stroke="#111" stroke-width="1.2"/>
<g clip-path="url(#c47)"><rect x="339.05" y="20.86" width="5.27" height="221.24" fill="#d0d0fa"/><path d="M338.05,18.95L345.32,11.68M338.05,25.95L345.32,18.68M338.05,32.95L345.32,25.68M338.05,39.95L345.32,32.68M338.05,46.95L345.32,39.68M338.05,53.95L345.32,46.68M338.05,60.95L345.32,53.68M338.05,67.95L345.32,60.68M338.05,74.95L345.32,67.68M338.05,81.95L345.32,74.68M338.05,88.95L345.32,81.68M338.05,95.95L345.32,88.68M338.05,102.95L345.32,95.68M338.05,109.95L345.32,102.68M338.05,116.95L345.32,109.68M338.05,123.95L345.32,116.68M338.05,130.95L345.32,123.68M338.05,137.95L345.32,130.68M338.05,144.95L345.32,137.68M338.05,151.95L345.32,144.68M338.05,158.95L345.32,151.68M338.05,165.95L345.32,158.68M338.05,172.95L345.32,165.68M338.05,179.95L345.32,172.68M338.05,186.95L345.32,179.68M338.05,193.95L345.32,186.68M338.05,200.95L345.32,193.68M338.05,207.95L345.32,200.68M338.05,214.95L345.32,207.68M338.05,221.95L345.32,214.68M338.05,228.95L345.32,221.68M338.05,235.95L345.32,228.68M338.05,242.95L345.32,235.68M338.05,249.95L345.32,242.68M338.05,256.95L345.32,249.68" stroke="#555" stroke-width="0.6" fill="none"/><path d="M338.05,10.42L345.32,17.69M338.05,17.42L345.32,24.69M338.05,24.42L345.32,31.69M338.05,31.42L345.32,38.69M338.05,38.42L345.32,45.69M338.05,45.42L345.32,52.69M338.05,52.42L345.32,59.69M338.05,59.42L345.32,66.69M338.05,66.42L345.32,73.69M338.05,73.42L345.32,80.69M338.05,80.42L345.32,87.69M338.05,87.42L345.32,94.69M338.05,94.42L345.32,101.69M338.05,101.42L345.32,108.69M338.05,108.42L345.32,115.69M338.05,115.42L345.32,122.69M338.05,122.42L345.32,129.69M338.05,129.42L345.32,136.69M338.05,136.42L345.32,143.69M338.05,143.42L345.32,150.69M338.05,150.42L345.32,157.69M338.05,157.42L345.32,164.69M338.05,164.42L345.32,171.69M338.05,171.42L345.32,178.69M338.05,178.42L345.32,185.69M338.05,185.42L345.32,192.69M338.05,192.42L345.32,199.69M338.05,199.42L345.32,206.69M338.05,206.42L345.32,213.69M338.05,213.42L345.32,220.69M338.05,220.42L345.32,227.69M338.05,227.42L345.32,234.69M338.05,234.42L345.32,241.69M338.05,241.42L345.32,248.69M338.05,248.42L345.32,255.69" stroke="#555" stroke-width="0.6" fill="none"/></g>
<rect x="339.05" y="20.86" width="5.27" height="221.24" fill="none" stroke="#111" stroke-width="0.9"/>
<g clip-path="url(#c48)"><rect x="344.32" y="20.86" width="5.27" height="221.24" fill="#b8b8e6"/><path d="M343.32,17.88L350.59,10.61M343.32,22.08L350.59,14.81M343.32,26.28L350.59,19.01M343.32,30.48L350.59,23.21M343.32,34.68L350.59,27.41M343.32,38.88L350.59,31.61M343.32,43.08L350.59,35.81M343.32,47.28L350.59,40.01M343.32,51.48L350.59,44.21M343.32,55.68L350.59,48.41M343.32,59.88L350.59,52.61M343.32,64.08L350.59,56.81M343.32,68.28L350.59,61.01M343.32,72.48L350.59,65.21M343.32,76.68L350.59,69.41M343.32,80.88L350.59,73.61M343.32,85.08L350.59,77.81M343.32,89.28L350.59,82.01M343.32,93.48L350.59,86.21M343.32,97.68L350.59,90.41M343.32,101.88L350.59,94.61M343.32,106.08L350.59,98.81M343.32,110.28L350.59,103.01M343.32,114.48L350.59,107.21M343.32,118.68L350.59,111.41M343.32,122.88L350.59,115.61M343.32,127.08L350.59,119.81M343.32,131.28L350.59,124.01M343.32,135.48L350.59,128.21M343.32,139.68L350.59,132.41M343.32,143.88L350.59,136.61M343.32,148.08L350.59,140.81M343.32,152.28L350.59,145.01M343.32,156.48L350.59,149.21M343.32,160.68L350.59,153.41M343.32,164.88L350.59,157.61M343.32,169.08L350.59,161.81M343.32,173.28L350.59,166.01M343.32,177.48L350.59,170.21M343.32,181.68L350.59,174.41M343.32,185.88L350.59,178.61M343.32,190.08L350.59,182.81M343.32,194.28L350.59,187.01M343.32,198.48L350.59,191.21M343.32,202.68L350.59,195.41M343.32,206.88L350.59,199.61M343.32,211.08L350.59,203.81M343.32,215.28L350.59,208.01M343.32,219.48L350.59,212.21M343.32,223.68L350.59,216.41M343.32,227.88L350.59,220.61M343.32,232.08L350.59,224.81M343.32,236.28L350.59,229.01M343.32,240.48L350.59,233.21M343.32,244.68L350.59,237.41M343.32,248.88L350.59,241.61M343.32,253.08L350.59,245.81" stroke="#4a4a60" stroke-width="0.75" fill="none"/><path d="M343.32,11.52L350.59,18.79M343.32,15.72L350.59,22.99M343.32,19.92L350.59,27.19M343.32,24.12L350.59,31.39M343.32,28.32L350.59,35.59M343.32,32.52L350.59,39.79M343.32,36.72L350.59,43.99M343.32,40.92L350.59,48.19M343.32,45.12L350.59,52.39M343.32,49.32L350.59,56.59M343.32,53.52L350.59,60.79M343.32,57.72L350.59,64.99M343.32,61.92L350.59,69.19M343.32,66.12L350.59,73.39M343.32,70.32L350.59,77.59M343.32,74.52L350.59,81.79M343.32,78.72L350.59,85.99M343.32,82.92L350.59,90.19M343.32,87.12L350.59,94.39M343.32,91.32L350.59,98.59M343.32,95.52L350.59,102.79M343.32,99.72L350.59,106.99M343.32,103.92L350.59,111.19M343.32,108.12L350.59,115.39M343.32,112.32L350.59,119.59M343.32,116.52L350.59,123.79M343.32,120.72L350.59,127.99M343.32,124.92L350.59,132.19M343.32,129.12L350.59,136.39M343.32,133.32L350.59,140.59M343.32,137.52L350.59,144.79M343.32,141.72L350.59,148.99M343.32,145.92L350.59,153.19M343.32,150.12L350.59,157.39M343.32,154.32L350.59,161.59M343.32,158.52L350.59,165.79M343.32,162.72L350.59,169.99M343.32,166.92L350.59,174.19M343.32,171.12L350.59,178.39M343.32,175.32L350.59,182.59M343.32,179.52L350.59,186.79M343.32,183.72L350.59,190.99M343.32,187.92L350.59,195.19M343.32,192.12L350.59,199.39M343.32,196.32L350.59,203.59M343.32,200.52L350.59,207.79M343.32,204.72L350.59,211.99M343.32,208.92L350.59,216.19M343.32,213.12L350.59,220.39M343.32,217.32L350.59,224.59M343.32,221.52L350.59,228.79M343.32,225.72L350.59,232.99M343.32,229.92L350.59,237.19M343.32,234.12L350.59,241.39M343.32,238.32L350.59,245.59M343.32,242.52L350.59,249.79M343.32,246.72L350.59,253.99" stroke="#4a4a60" stroke-width="0.75" fill="none"/></g>
<rect x="344.32" y="20.86" width="5.27" height="221.24" fill="none" stroke="#111" stroke-width="0.9"/>
<rect x="317.37" y="21.38" width="1.4" height="220.72" fill="#909090"/>
<rect x="32.25" y="0.5" width="325.1" height="241.6" fill="none" stroke="#000" stroke-width="1.3"/>
<line x1="32.25" y1="224.77" x2="35.25" y2="224.77" stroke="#000" stroke-width="1.3"/>
<line x1="32.25" y1="207.43" x2="37.45" y2="207.43" stroke="#000" stroke-width="1.3"/>
<line x1="32.25" y1="190.10" x2="35.25" y2="190.10" stroke="#000" stroke-width="1.3"/>
<line x1="32.25" y1="172.77" x2="37.45" y2="172.77" stroke="#000" stroke-width="1.3"/>
<line x1="32.25" y1="155.44" x2="35.25" y2="155.44" stroke="#000" stroke-width="1.3"/>
<line x1="32.25" y1="138.10" x2="37.45" y2="138.10" stroke="#000" stroke-width="1.3"/>
<line x1="32.25" y1="120.77" x2="35.25" y2="120.77" stroke="#000" stroke-width="1.3"/>
<line x1="32.25" y1="103.44" x2="37.45" y2="103.44" stroke="#000" stroke-width="1.3"/>
<line x1="32.25" y1="86.10" x2="35.25" y2="86.10" stroke="#000" stroke-width="1.3"/>
<line x1="32.25" y1="68.77" x2="37.45" y2="68.77" stroke="#000" stroke-width="1.3"/>
<line x1="32.25" y1="51.44" x2="35.25" y2="51.44" stroke="#000" stroke-width="1.3"/>
<line x1="32.25" y1="34.10" x2="37.45" y2="34.10" stroke="#000" stroke-width="1.3"/>
<line x1="32.25" y1="16.77" x2="35.25" y2="16.77" stroke="#000" stroke-width="1.3"/>
<text x="27.6" y="246.20" text-anchor="end" class="k">0</text>
<text x="27.6" y="211.53" text-anchor="end" class="k">2</text>
<text x="27.6" y="176.87" text-anchor="end" class="k">4</text>
<text x="27.6" y="142.20" text-anchor="end" class="k">6</text>
<text x="27.6" y="107.54" text-anchor="end" class="k">8</text>
<text x="27.6" y="72.87" text-anchor="end" class="k">10</text>
<text x="27.6" y="38.20" text-anchor="end" class="k">12</text>
<text x="55.95" y="257.1" text-anchor="middle" class="k" textLength="18.8" lengthAdjust="spacingAndGlyphs">250</text>
<text x="95.64" y="257.1" text-anchor="middle" class="k" textLength="18.8" lengthAdjust="spacingAndGlyphs">300</text>
<text x="135.33" y="257.1" text-anchor="middle" class="k" textLength="18.8" lengthAdjust="spacingAndGlyphs">350</text>
<text x="175.02" y="257.1" text-anchor="middle" class="k" textLength="18.8" lengthAdjust="spacingAndGlyphs">400</text>
<text x="214.71" y="257.1" text-anchor="middle" class="k" textLength="18.8" lengthAdjust="spacingAndGlyphs">450</text>
<text x="254.40" y="257.1" text-anchor="middle" class="k" textLength="18.8" lengthAdjust="spacingAndGlyphs">500</text>
<text x="294.09" y="257.1" text-anchor="middle" class="k" textLength="18.8" lengthAdjust="spacingAndGlyphs">550</text>
<text x="333.78" y="257.1" text-anchor="middle" class="k" textLength="18.8" lengthAdjust="spacingAndGlyphs">600</text>
<text x="91.4" y="277.2" class="t" textLength="207.2" lengthAdjust="spacingAndGlyphs">Communication Range of Vehicles (m)</text>
<text transform="translate(9.2,210.7) rotate(-90)" class="t" style="font-size:13px" textLength="180" lengthAdjust="spacingAndGlyphs">Average Connection Time (sec.)</text>
<rect x="39.9" y="3.7" width="112.8" height="94.6" fill="#fff" stroke="#000" stroke-width="0.9"/>
<rect x="43" y="7.60" width="21.7" height="9.8" fill="url(#l1)" stroke="#3c3c3c" stroke-width="1.2"/>
<line x1="42.4" y1="7.60" x2="65.3" y2="7.60" stroke="#000" stroke-width="1.2"/>
<text x="69.4" y="16.35" class="t" textLength="67.6" lengthAdjust="spacingAndGlyphs">r=5 Analysis</text>
<rect x="43" y="23.38" width="21.7" height="9.8" fill="url(#l2)" stroke="#3c3c3c" stroke-width="1.2"/>
<line x1="42.4" y1="23.38" x2="65.3" y2="23.38" stroke="#000" stroke-width="1.2"/>
<text x="69.4" y="31.91" class="t" textLength="79.2" lengthAdjust="spacingAndGlyphs">r=5 Simulation</text>
<rect x="43" y="39.16" width="21.7" height="9.8" fill="#dadada"/>
<rect x="43" y="39.76" width="21.7" height="0.8" fill="#fafafa"/>
<rect x="43" y="43.16" width="21.7" height="1.7" fill="#7c7c7c"/>
<rect x="43" y="44.96" width="21.7" height="0.8" fill="#fafafa"/>
<rect x="43" y="39.16" width="21.7" height="9.8" fill="none" stroke="#1a1a1a" stroke-width="1.2"/>
<text x="69.4" y="47.47" class="t" textLength="67.6" lengthAdjust="spacingAndGlyphs">r=6 Analysis</text>
<rect x="43" y="54.94" width="21.7" height="9.8" fill="#fff"/>
<rect x="43" y="56" width="21.7" height="1" fill="#111"/>
<rect x="43" y="58" width="21.7" height="1" fill="#111"/>
<rect x="43" y="60" width="21.7" height="1" fill="#111"/>
<rect x="43" y="62" width="21.7" height="1" fill="#111"/>
<rect x="43" y="63.6" width="21.7" height="0.6" fill="#777"/>
<rect x="43" y="54.94" width="21.7" height="9.8" fill="none" stroke="#1a1a1a" stroke-width="1.2"/>
<text x="69.4" y="63.03" class="t" textLength="79.2" lengthAdjust="spacingAndGlyphs">r=6 Simulation</text>
<rect x="43" y="70.72" width="21.7" height="9.8" fill="url(#l5)" stroke="#1a1a1a" stroke-width="1.2"/>
<text x="69.4" y="78.59" class="t" textLength="67.6" lengthAdjust="spacingAndGlyphs">r=7 Analysis</text>
<rect x="43" y="86.50" width="21.7" height="9.8" fill="url(#l6)" stroke="#1a1a1a" stroke-width="1.2"/>
<text x="69.4" y="94.15" class="t" textLength="79.2" lengthAdjust="spacingAndGlyphs">r=7 Simulation</text>
</svg>
</body></html>
